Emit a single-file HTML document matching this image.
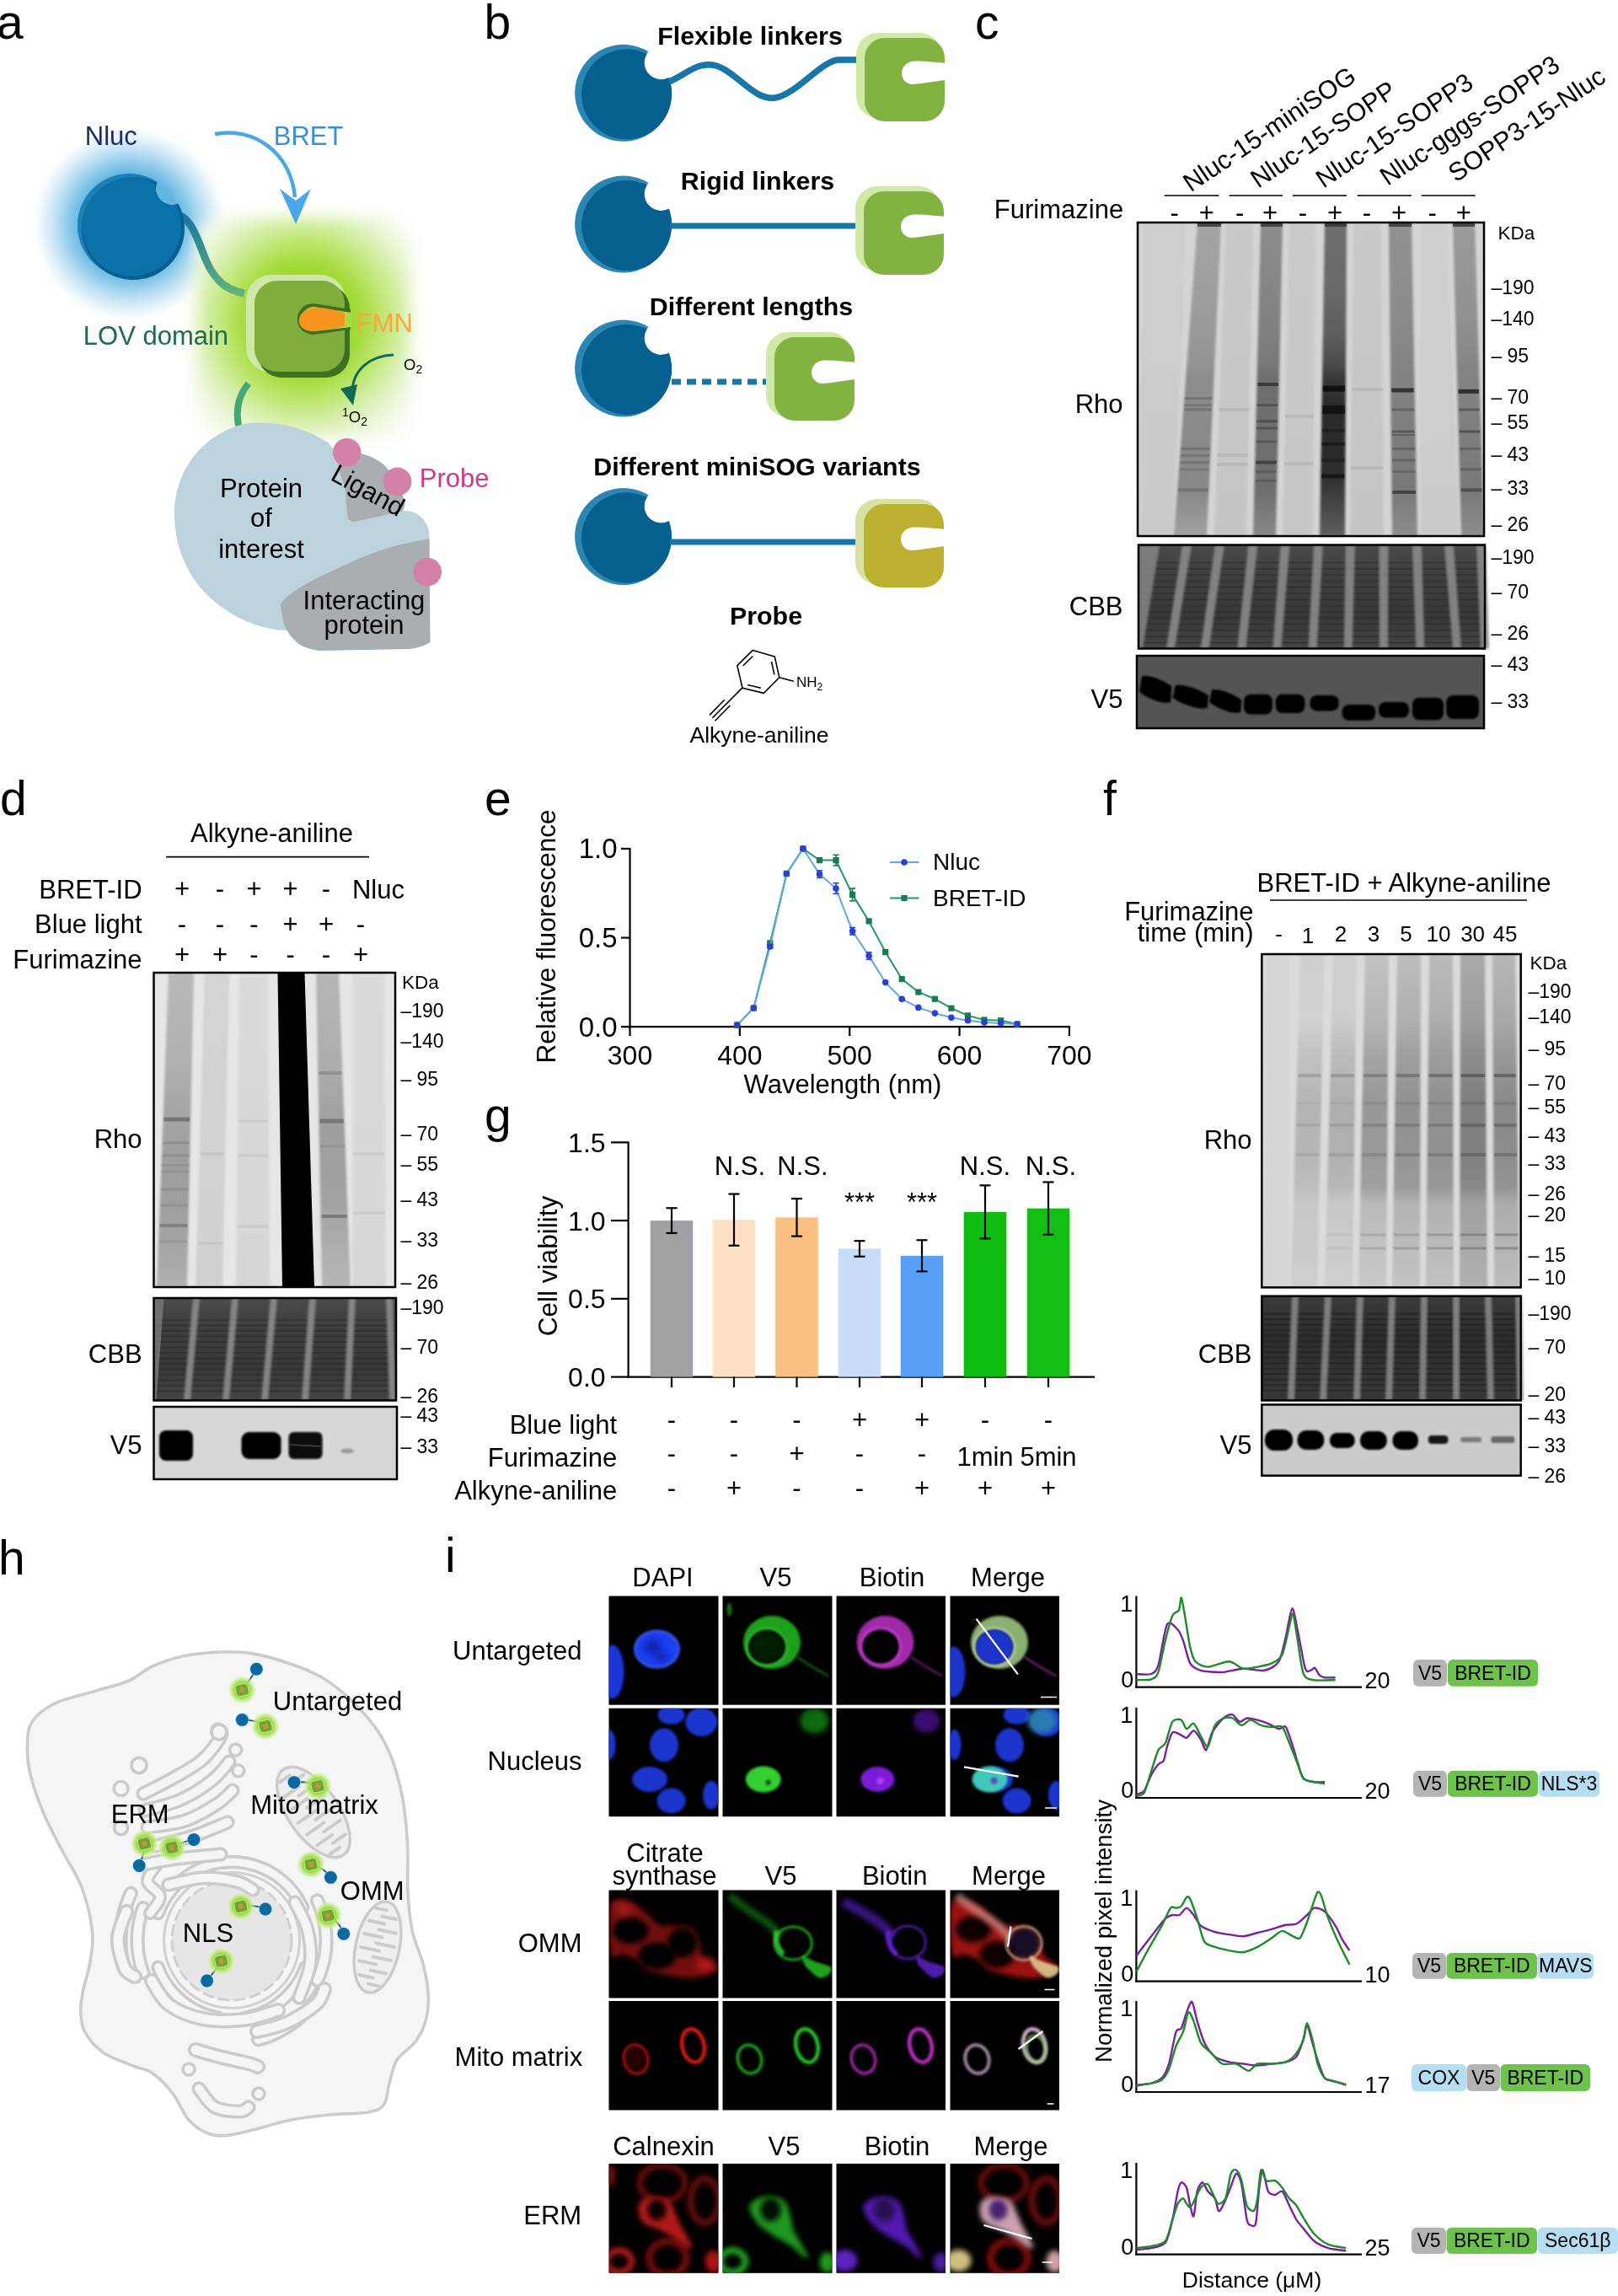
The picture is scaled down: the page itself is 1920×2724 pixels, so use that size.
<!DOCTYPE html>
<html><head><meta charset="utf-8"><style>
html,body{margin:0;padding:0;background:#fff;}
svg{display:block;will-change:transform;}
text{font-family:"Liberation Sans", sans-serif;}
</style></head><body>
<svg width="1920" height="2724" viewBox="0 0 1920 2724" font-family='"Liberation Sans", sans-serif'>
<defs>
<radialGradient id="bglow" cx="0.5" cy="0.5" r="0.5"><stop offset="0.5" stop-color="#62b6e2" stop-opacity="1"/><stop offset="0.62" stop-color="#80c4e8" stop-opacity="0.9"/><stop offset="0.78" stop-color="#b2dbf0" stop-opacity="0.7"/><stop offset="0.9" stop-color="#dceef8" stop-opacity="0.5"/><stop offset="1" stop-color="#ffffff" stop-opacity="0"/></radialGradient>
<filter id="gblur" x="-30%" y="-30%" width="160%" height="160%"><feGaussianBlur stdDeviation="9"/></filter>
<radialGradient id="ggl" cx="0.5" cy="0.47" r="0.62"><stop offset="0" stop-color="#96d41e"/><stop offset="0.42" stop-color="#a0da30"/><stop offset="0.62" stop-color="#c2e87a"/><stop offset="0.85" stop-color="#e6f5cf"/><stop offset="1" stop-color="#f6fbee"/></radialGradient>
<linearGradient id="lk1" x1="0" y1="0" x2="0" y2="1"><stop offset="0" stop-color="#1a76a0"/><stop offset="1" stop-color="#62b27a"/></linearGradient>
<filter id="lblur" x="-10%" y="-2%" width="120%" height="104%"><feGaussianBlur stdDeviation="1.6"/></filter>
<filter id="bblur" x="-20%" y="-40%" width="140%" height="180%"><feGaussianBlur stdDeviation="2"/></filter>
<filter id="bblur2" x="-20%" y="-60%" width="140%" height="220%"><feGaussianBlur stdDeviation="1.2"/></filter>
<linearGradient id="lg1" x1="0" y1="0" x2="0" y2="1"><stop offset="0" stop-color="#cecece"/><stop offset="1" stop-color="#cacaca"/></linearGradient>
<linearGradient id="lg2" x1="0" y1="0" x2="0" y2="1"><stop offset="0" stop-color="#c9c9c9"/><stop offset="1" stop-color="#c5c5c5"/></linearGradient>
<linearGradient id="lg3" x1="0" y1="0" x2="0" y2="1"><stop offset="0" stop-color="#cacaca"/><stop offset="1" stop-color="#c6c6c6"/></linearGradient>
<linearGradient id="lg4" x1="0" y1="0" x2="0" y2="1"><stop offset="0" stop-color="#c9c9c9"/><stop offset="1" stop-color="#c5c5c5"/></linearGradient>
<linearGradient id="lg5" x1="0" y1="0" x2="0" y2="1"><stop offset="0" stop-color="#cfcfcf"/><stop offset="1" stop-color="#cbcbcb"/></linearGradient>
<linearGradient id="lg6" x1="0" y1="0" x2="0" y2="1"><stop offset="0" stop-color="#a5a5a5"/><stop offset="0.3" stop-color="#9b9b9b"/><stop offset="0.45" stop-color="#949494"/><stop offset="0.5" stop-color="#8c8c8c"/><stop offset="0.85" stop-color="#878787"/><stop offset="1" stop-color="#a0a0a0"/></linearGradient>
<linearGradient id="lg7" x1="0" y1="0" x2="0" y2="1"><stop offset="0" stop-color="#8c8c8c"/><stop offset="0.3" stop-color="#828282"/><stop offset="0.45" stop-color="#787878"/><stop offset="0.5" stop-color="#6e6e6e"/><stop offset="0.85" stop-color="#6e6e6e"/><stop offset="1" stop-color="#878787"/></linearGradient>
<linearGradient id="lg8" x1="0" y1="0" x2="0" y2="1"><stop offset="0" stop-color="#6e6e6e"/><stop offset="0.2" stop-color="#696969"/><stop offset="0.35" stop-color="#5f5f5f"/><stop offset="0.45" stop-color="#4b4b4b"/><stop offset="0.5" stop-color="#373737"/><stop offset="0.6" stop-color="#282828"/><stop offset="0.8" stop-color="#2d2d2d"/><stop offset="0.9" stop-color="#464646"/><stop offset="1" stop-color="#5f5f5f"/></linearGradient>
<linearGradient id="lg9" x1="0" y1="0" x2="0" y2="1"><stop offset="0" stop-color="#919191"/><stop offset="0.3" stop-color="#8a8a8a"/><stop offset="0.5" stop-color="#828282"/><stop offset="0.85" stop-color="#787878"/><stop offset="1" stop-color="#8c8c8c"/></linearGradient>
<linearGradient id="lg10" x1="0" y1="0" x2="0" y2="1"><stop offset="0" stop-color="#9b9b9b"/><stop offset="0.3" stop-color="#919191"/><stop offset="0.5" stop-color="#828282"/><stop offset="0.85" stop-color="#787878"/><stop offset="1" stop-color="#8c8c8c"/></linearGradient>
<linearGradient id="cbbg" x1="0" y1="0" x2="0" y2="1"><stop offset="0" stop-color="#4a4a4a"/><stop offset="0.3" stop-color="#3e3e3e"/><stop offset="0.7" stop-color="#383838"/><stop offset="1" stop-color="#444"/></linearGradient>
<linearGradient id="lg11" x1="0" y1="0" x2="0" y2="1"><stop offset="0" stop-color="#b9b9b9"/><stop offset="0.3" stop-color="#afafaf"/><stop offset="0.45" stop-color="#a5a5a5"/><stop offset="0.6" stop-color="#9e9e9e"/><stop offset="0.8" stop-color="#a0a0a0"/><stop offset="1" stop-color="#afafaf"/></linearGradient>
<linearGradient id="lg12" x1="0" y1="0" x2="0" y2="1"><stop offset="0" stop-color="#d4d4d4"/><stop offset="1" stop-color="#d0d0d0"/></linearGradient>
<linearGradient id="lg13" x1="0" y1="0" x2="0" y2="1"><stop offset="0" stop-color="#dadada"/><stop offset="1" stop-color="#d6d6d6"/></linearGradient>
<linearGradient id="lg14" x1="0" y1="0" x2="0" y2="1"><stop offset="0" stop-color="#b6b6b6"/><stop offset="0.3" stop-color="#acacac"/><stop offset="0.5" stop-color="#9e9e9e"/><stop offset="0.7" stop-color="#a0a0a0"/><stop offset="1" stop-color="#b6b6b6"/></linearGradient>
<linearGradient id="lg15" x1="0" y1="0" x2="0" y2="1"><stop offset="0" stop-color="#dadada"/><stop offset="1" stop-color="#d7d7d7"/></linearGradient>
<linearGradient id="lg16" x1="0" y1="0" x2="0" y2="1"><stop offset="0" stop-color="#d6d6d6"/><stop offset="1" stop-color="#d6d6d6"/></linearGradient>
<linearGradient id="lg17" x1="0" y1="0" x2="0" y2="1"><stop offset="0" stop-color="#cecece"/><stop offset="0.2" stop-color="#d2d2d2"/><stop offset="0.3" stop-color="#c2c2c2"/><stop offset="0.45" stop-color="#b4b4b4"/><stop offset="0.6" stop-color="#b6b6b6"/><stop offset="0.7" stop-color="#bebebe"/><stop offset="0.75" stop-color="#c8c8c8"/><stop offset="0.9" stop-color="#cbcbcb"/><stop offset="1" stop-color="#cecece"/></linearGradient>
<linearGradient id="lg18" x1="0" y1="0" x2="0" y2="1"><stop offset="0" stop-color="#cecece"/><stop offset="0.2" stop-color="#cccccc"/><stop offset="0.3" stop-color="#bcbcbc"/><stop offset="0.45" stop-color="#aeaeae"/><stop offset="0.6" stop-color="#b0b0b0"/><stop offset="0.7" stop-color="#b8b8b8"/><stop offset="0.75" stop-color="#c8c8c8"/><stop offset="0.9" stop-color="#cbcbcb"/><stop offset="1" stop-color="#cecece"/></linearGradient>
<linearGradient id="lg19" x1="0" y1="0" x2="0" y2="1"><stop offset="0" stop-color="#c3c3c3"/><stop offset="0.2" stop-color="#b5b5b5"/><stop offset="0.3" stop-color="#a5a5a5"/><stop offset="0.45" stop-color="#979797"/><stop offset="0.6" stop-color="#999999"/><stop offset="0.7" stop-color="#a1a1a1"/><stop offset="0.75" stop-color="#b9b9b9"/><stop offset="0.9" stop-color="#c3c3c3"/><stop offset="1" stop-color="#c9c9c9"/></linearGradient>
<linearGradient id="lg20" x1="0" y1="0" x2="0" y2="1"><stop offset="0" stop-color="#bdbdbd"/><stop offset="0.2" stop-color="#afafaf"/><stop offset="0.3" stop-color="#9f9f9f"/><stop offset="0.45" stop-color="#919191"/><stop offset="0.6" stop-color="#939393"/><stop offset="0.7" stop-color="#9b9b9b"/><stop offset="0.75" stop-color="#b3b3b3"/><stop offset="0.9" stop-color="#bdbdbd"/><stop offset="1" stop-color="#c3c3c3"/></linearGradient>
<linearGradient id="lg21" x1="0" y1="0" x2="0" y2="1"><stop offset="0" stop-color="#bbbbbb"/><stop offset="0.2" stop-color="#adadad"/><stop offset="0.3" stop-color="#9d9d9d"/><stop offset="0.45" stop-color="#8f8f8f"/><stop offset="0.6" stop-color="#919191"/><stop offset="0.7" stop-color="#999999"/><stop offset="0.75" stop-color="#b1b1b1"/><stop offset="0.9" stop-color="#bbbbbb"/><stop offset="1" stop-color="#c1c1c1"/></linearGradient>
<linearGradient id="lg22" x1="0" y1="0" x2="0" y2="1"><stop offset="0" stop-color="#aaaaaa"/><stop offset="0.2" stop-color="#9c9c9c"/><stop offset="0.3" stop-color="#8c8c8c"/><stop offset="0.45" stop-color="#7e7e7e"/><stop offset="0.6" stop-color="#808080"/><stop offset="0.7" stop-color="#888888"/><stop offset="0.75" stop-color="#a0a0a0"/><stop offset="0.9" stop-color="#aaaaaa"/><stop offset="1" stop-color="#b0b0b0"/></linearGradient>
<linearGradient id="lg23" x1="0" y1="0" x2="0" y2="1"><stop offset="0" stop-color="#b6b6b6"/><stop offset="0.2" stop-color="#a8a8a8"/><stop offset="0.3" stop-color="#989898"/><stop offset="0.45" stop-color="#8a8a8a"/><stop offset="0.6" stop-color="#8c8c8c"/><stop offset="0.7" stop-color="#949494"/><stop offset="0.75" stop-color="#acacac"/><stop offset="0.9" stop-color="#b6b6b6"/><stop offset="1" stop-color="#bcbcbc"/></linearGradient>
<linearGradient id="cbbf" x1="0" y1="0" x2="0" y2="1"><stop offset="0" stop-color="#3a3a3a"/><stop offset="0.4" stop-color="#2c2c2c"/><stop offset="1" stop-color="#383838"/></linearGradient>
<radialGradient id="sg" cx="0.5" cy="0.5" r="0.5"><stop offset="0" stop-color="#90d030"/><stop offset="0.55" stop-color="#a2dc48"/><stop offset="0.8" stop-color="#c8ee90" stop-opacity="0.7"/><stop offset="1" stop-color="#eaf7d5" stop-opacity="0"/></radialGradient>
<radialGradient id="sb" cx="0.5" cy="0.5" r="0.5"><stop offset="0.65" stop-color="#7ccaf0"/><stop offset="1" stop-color="#d8f0fb" stop-opacity="0"/></radialGradient>
<filter id="mb1" x="-50%" y="-50%" width="200%" height="200%"><feGaussianBlur stdDeviation="1.5"/></filter>
<filter id="mb2" x="-50%" y="-50%" width="200%" height="200%"><feGaussianBlur stdDeviation="3"/></filter>
<filter id="mb4" x="-50%" y="-50%" width="200%" height="200%"><feGaussianBlur stdDeviation="5"/></filter>
<filter id="mb8" x="-50%" y="-50%" width="200%" height="200%"><feGaussianBlur stdDeviation="8"/></filter>
<clipPath id="tc1"><rect x="722.5" y="1893.5" width="130.0" height="129.20000000000005"/></clipPath>
<clipPath id="tc2"><rect x="857.5" y="1893.5" width="130.0" height="129.20000000000005"/></clipPath>
<clipPath id="tc3"><rect x="992.5" y="1893.5" width="129.5" height="129.20000000000005"/></clipPath>
<clipPath id="tc4"><rect x="1127.5" y="1893.5" width="129.5" height="129.20000000000005"/></clipPath>
<clipPath id="tc5"><rect x="722.5" y="2026.7" width="130.0" height="128.49999999999977"/></clipPath>
<clipPath id="tc6"><rect x="857.5" y="2026.7" width="130.0" height="128.49999999999977"/></clipPath>
<clipPath id="tc7"><rect x="992.5" y="2026.7" width="129.5" height="128.49999999999977"/></clipPath>
<clipPath id="tc8"><rect x="1127.5" y="2026.7" width="129.5" height="128.49999999999977"/></clipPath>
<clipPath id="tc9"><rect x="722.5" y="2242.5" width="130.0" height="128.0"/></clipPath>
<clipPath id="tc10"><rect x="857.5" y="2242.5" width="130.0" height="128.0"/></clipPath>
<clipPath id="tc11"><rect x="992.5" y="2242.5" width="129.5" height="128.0"/></clipPath>
<clipPath id="tc12"><rect x="1127.5" y="2242.5" width="129.5" height="128.0"/></clipPath>
<clipPath id="tc13"><rect x="722.5" y="2374" width="130.0" height="129.5"/></clipPath>
<clipPath id="tc14"><rect x="857.5" y="2374" width="130.0" height="129.5"/></clipPath>
<clipPath id="tc15"><rect x="992.5" y="2374" width="129.5" height="129.5"/></clipPath>
<clipPath id="tc16"><rect x="1127.5" y="2374" width="129.5" height="129.5"/></clipPath>
<clipPath id="tc17"><rect x="722.5" y="2567" width="130.0" height="129.80000000000018"/></clipPath>
<clipPath id="tc18"><rect x="857.5" y="2567" width="130.0" height="129.80000000000018"/></clipPath>
<clipPath id="tc19"><rect x="992.5" y="2567" width="129.5" height="129.80000000000018"/></clipPath>
<clipPath id="tc20"><rect x="1127.5" y="2567" width="129.5" height="129.80000000000018"/></clipPath>
</defs>
<rect x="0" y="0" width="1920" height="2724" fill="#fff"/>
<text x="-4.0" y="45.5" font-size="57" text-anchor="start" fill="#000">a</text>
<circle cx="154" cy="266" r="118" fill="url(#bglow)"/>
<rect x="232" y="258" width="256" height="262" rx="34" fill="url(#ggl)" filter="url(#gblur)"/>
<path d="M 212 255 C 232 262, 238 300, 250 320 C 260 336, 270 344, 290 348" fill="none" stroke="url(#lk1)" stroke-width="9"/>
<path d="M 186.8 215.8 A 61.5 61.5 0 1 0 209.5 242.2 A 19 19 0 0 1 186.8 215.8 Z" fill="#1a80b8"/>
<path d="M 186.3 217.0 A 61 61 0 1 0 211.4 241.5 A 19 19 0 0 1 186.3 217.0 Z" fill="#0a5f90"/>
<path d="M 185.8 218.4 A 58.5 58.5 0 1 0 208.6 242.4 A 19 19 0 0 1 185.8 218.4 Z" fill="#0a72a8"/>
<rect x="292" y="326" width="118" height="116" rx="30" fill="#cde9a5"/>
<rect x="306" y="338" width="109" height="110" rx="28" fill="#3f6f22"/>
<rect x="302" y="333" width="107" height="108" rx="27" fill="#7fae3d"/>
<path d="M 416 367 L 372 360 C 348 360, 345 396, 372 397 L 416 391 Z" fill="#3f6f22"/>
<path d="M 417 371 L 373 364 C 354 364, 351 393, 373 393 L 417 388 Z" fill="#a6dc40"/>
<path d="M 409 372 C 395 366, 372 362, 361 369 C 350 378, 354 392, 370 393 C 385 392, 398 389, 409 387 Z" fill="#f7941d"/>
<path d="M 295 455 C 282 470, 280 488, 283 505" fill="none" stroke="#45a874" stroke-width="8"/>
<path d="M 255 159 C 300 150, 345 180, 350 234" fill="none" stroke="#4aa8ea" stroke-width="4.5"/>
<path d="M 332 224 L 351 266 L 369 224 L 351 238 Z" fill="#4aa8ea"/>
<path d="M 467 421 C 440 422, 418 438, 418 466" fill="none" stroke="#0f6b52" stroke-width="3"/>
<path d="M 404 461 L 419 481 L 424 456 Z" fill="#0f6b52"/>
<text x="100.8" y="172" font-size="31" text-anchor="start" fill="#1c2a6e">Nluc</text>
<text x="324.8" y="172" font-size="31" text-anchor="start" fill="#3a8fd3">BRET</text>
<text x="98.8" y="409" font-size="31" text-anchor="start" fill="#1e6b4d">LOV domain</text>
<text x="422.8" y="394" font-size="31" text-anchor="start" fill="#f5a841">FMN</text>
<text x="479" y="438.5" font-size="18.5">O<tspan font-size="14" dy="4">2</tspan></text>
<text x="406" y="500.5" font-size="18.5"><tspan font-size="14" dy="-7">1</tspan><tspan dy="7">O</tspan><tspan font-size="14" dy="4">2</tspan></text>
<path d="M 207 614 C 205 560, 240 515, 290 503 C 320 498, 360 505, 390 526 L 396 533 C 405 555, 411 590, 414 618 L 474 606 C 490 604, 505 612, 509 630 L 509.5 642 L 470 700 L 380 740 C 360 748, 340 749, 326 747 C 280 740, 210 700, 207 614 Z" fill="#bcd3de"/>
<path d="M 400 537 C 415 533, 440 538, 455 551 C 465 560, 475 580, 480 594 C 481 600, 479 606, 476 607 C 460 610, 440 615, 421 619 C 415 619, 412 616, 412.7 614 C 411 600, 410 585, 408 575 C 405 565, 400 555, 400 537 Z" fill="#a8aeb1"/>
<path d="M 333 717 C 345 700, 370 688, 421 665 C 450 652, 480 644, 509.5 639.5 L 510.5 762 C 500 768, 490 770, 484 770 L 379 772 C 365 770, 355 766, 349.7 759.5 C 340 750, 335 740, 333 717 Z" fill="#a7adb0"/>
<circle cx="411.7" cy="536.7" r="16.8" fill="#d580a6"/>
<circle cx="471.6" cy="571.4" r="16.8" fill="#d580a6"/>
<circle cx="507.3" cy="678.6" r="16.8" fill="#d580a6"/>
<text x="497.8" y="578" font-size="31" text-anchor="start" fill="#cc3a88">Probe</text>
<text x="310" y="590" font-size="31" text-anchor="middle" fill="#000">Protein</text>
<text x="310" y="625" font-size="31" text-anchor="middle" fill="#000">of</text>
<text x="310" y="662" font-size="31" text-anchor="middle" fill="#000">interest</text>
<text x="431.5" y="591" font-size="31" text-anchor="middle" fill="#000" transform="rotate(29 431.5 591)">Ligand</text>
<text x="432" y="723" font-size="31" text-anchor="middle" fill="#000">Interacting</text>
<text x="432" y="752" font-size="31" text-anchor="middle" fill="#000">protein</text>
<text x="574.5" y="45.5" font-size="57" text-anchor="start" fill="#000">b</text>
<path d="M 769.5 61.2 A 57.5 57.5 0 1 0 794.1 91.9 A 20 20 0 0 1 769.5 61.2 Z" fill="#2b86b3"/>
<path d="M 767.5 63.9 A 53.5 53.5 0 1 0 793.4 92.3 A 20 20 0 0 1 767.5 63.9 Z" fill="#05608f"/>
<path d="M 769.5 216.9 A 57.5 57.5 0 1 0 794.1 247.6 A 20 20 0 0 1 769.5 216.9 Z" fill="#2b86b3"/>
<path d="M 767.5 219.6 A 53.5 53.5 0 1 0 793.4 248.0 A 20 20 0 0 1 767.5 219.6 Z" fill="#05608f"/>
<path d="M 769.5 387.9 A 57.5 57.5 0 1 0 794.1 418.6 A 20 20 0 0 1 769.5 387.9 Z" fill="#2b86b3"/>
<path d="M 767.5 390.6 A 53.5 53.5 0 1 0 793.4 419.0 A 20 20 0 0 1 767.5 390.6 Z" fill="#05608f"/>
<path d="M 769.5 587.4 A 57.5 57.5 0 1 0 794.1 618.1 A 20 20 0 0 1 769.5 587.4 Z" fill="#2b86b3"/>
<path d="M 767.5 590.1 A 53.5 53.5 0 1 0 793.4 618.5 A 20 20 0 0 1 767.5 590.1 Z" fill="#05608f"/>
<path d="M 794 97 C 815 88, 828 72, 850 78 C 875 86, 895 120, 920 116 C 945 112, 975 72, 995 71 L 1018 71" fill="none" stroke="#1677a8" stroke-width="7.5"/>
<line x1="795" y1="268" x2="1018" y2="268" stroke="#1677a8" stroke-width="7"/>
<line x1="797" y1="453" x2="912" y2="453" stroke="#1677a8" stroke-width="7" stroke-dasharray="11 7"/>
<line x1="795" y1="643" x2="1018" y2="643" stroke="#1677a8" stroke-width="7"/>
<rect x="1016" y="39" width="101" height="101" rx="26" fill="#cfe9a6"/>
<rect x="1026" y="45" width="95" height="99" rx="24" fill="#82b23f"/>
<path d="M 1122 75 C 1101 73, 1088 72, 1082 73 C 1066 76, 1066 98, 1082 100 C 1091 100, 1104 97, 1122 95 Z" fill="#fff"/>
<rect x="1015" y="221" width="101" height="101" rx="26" fill="#cfe9a6"/>
<rect x="1025" y="227" width="95" height="99" rx="24" fill="#82b23f"/>
<path d="M 1121 257 C 1100 255, 1087 254, 1081 255 C 1065 258, 1065 280, 1081 282 C 1090 282, 1103 279, 1121 277 Z" fill="#fff"/>
<rect x="909" y="394" width="101" height="101" rx="26" fill="#cfe9a6"/>
<rect x="919" y="400" width="95" height="99" rx="24" fill="#82b23f"/>
<path d="M 1015 430 C 994 428, 981 427, 975 428 C 959 431, 959 453, 975 455 C 984 455, 997 452, 1015 450 Z" fill="#fff"/>
<rect x="1015" y="592" width="101" height="101" rx="26" fill="#d8e2a2"/>
<rect x="1025" y="598" width="95" height="99" rx="24" fill="#bcb031"/>
<path d="M 1121 628 C 1100 626, 1087 625, 1081 626 C 1065 629, 1065 651, 1081 653 C 1090 653, 1103 650, 1121 648 Z" fill="#fff"/>
<text x="890" y="53" font-size="30.4" text-anchor="middle" fill="#000" font-weight="bold">Flexible linkers</text>
<text x="899" y="225" font-size="30.4" text-anchor="middle" fill="#000" font-weight="bold">Rigid linkers</text>
<text x="891.5" y="374" font-size="30.4" text-anchor="middle" fill="#000" font-weight="bold">Different lengths</text>
<text x="898.5" y="564" font-size="30.4" text-anchor="middle" fill="#000" font-weight="bold">Different miniSOG variants</text>
<text x="909" y="741" font-size="30.4" text-anchor="middle" fill="#000" font-weight="bold">Probe</text>
<polygon points="893.3,771.4 919.3,779.1 924.8,803.8 906.3,822.4 881,816.2 874.8,789.6" fill="none" stroke="#000" stroke-width="1.6" stroke-linejoin="round"/>
<line x1="893.3" y1="778.5" x2="881.8" y2="789.8" stroke="#000" stroke-width="1.6"/>
<line x1="915.5" y1="785.0" x2="918.9" y2="800.4" stroke="#000" stroke-width="1.6"/>
<line x1="902.9" y1="816.3" x2="887.1" y2="812.5" stroke="#000" stroke-width="1.6"/>
<line x1="924.8" y1="803.8" x2="941.8" y2="808.2" stroke="#000" stroke-width="1.6"/>
<text x="945" y="814.5" font-size="17">NH<tspan font-size="12" dy="4">2</tspan></text>
<line x1="881.3" y1="815.6" x2="845.4" y2="851.7" stroke="#000" stroke-width="1.6"/>
<line x1="859.7" y1="830.2" x2="842" y2="848.4" stroke="#000" stroke-width="1.6"/>
<line x1="866.3" y1="837" x2="848.5" y2="855.2" stroke="#000" stroke-width="1.6"/>
<text x="901" y="881" font-size="26.5" text-anchor="middle" fill="#000">Alkyne-aniline</text>
<text x="1157.0" y="45.7" font-size="57" text-anchor="start" fill="#000">c</text>
<rect x="1350" y="264" width="411" height="372" fill="#d4d4d4"/>
<polygon points="1356,264 1408,264 1392,636 1352,636" fill="url(#lg1)" filter="url(#lblur)"/>
<polygon points="1455,264 1487,264 1479,636 1441,636" fill="url(#lg2)" filter="url(#lblur)"/>
<polygon points="1530,264 1561,264 1558,636 1522,636" fill="url(#lg3)" filter="url(#lblur)"/>
<polygon points="1606,264 1639,264 1642,636 1602,636" fill="url(#lg4)" filter="url(#lblur)"/>
<polygon points="1686,264 1716,264 1732,636 1685,636" fill="url(#lg5)" filter="url(#lblur)"/>
<rect x="1446.6" y="484" width="35.6" height="4" fill="#b4b4b4" opacity="0.7"/>
<rect x="1444.6" y="538" width="36.5" height="4" fill="#b4b4b4" opacity="0.7"/>
<rect x="1444.2" y="549" width="36.6" height="4" fill="#b4b4b4" opacity="0.7"/>
<rect x="1525.1" y="492" width="34.1" height="4" fill="#b4b4b4" opacity="0.7"/>
<rect x="1523.8" y="548" width="34.8" height="4" fill="#b4b4b4" opacity="0.7"/>
<rect x="1603.9" y="460" width="36.7" height="4" fill="#b4b4b4" opacity="0.7"/>
<rect x="1602.9" y="553" width="38.5" height="4" fill="#b4b4b4" opacity="0.7"/>
<polygon points="1421,264 1449,264 1432,636 1393,636" fill="url(#lg6)" filter="url(#lblur)"/>
<rect x="1406.3" y="471.1" width="32.2" height="3" fill="#6e6e6e" opacity="0.85"/>
<rect x="1405.7" y="479.2" width="32.4" height="3" fill="#737373" opacity="0.85"/>
<rect x="1405.3" y="484.5" width="32.6" height="3" fill="#707070" opacity="0.85"/>
<rect x="1401.8" y="530.9" width="33.9" height="3" fill="#6e6e6e" opacity="0.85"/>
<rect x="1401.2" y="539.1" width="34.2" height="3" fill="#737373" opacity="0.85"/>
<rect x="1400.6" y="547.2" width="34.4" height="3" fill="#707070" opacity="0.85"/>
<rect x="1400.0" y="555.4" width="34.7" height="3" fill="#767676" opacity="0.85"/>
<rect x="1398.1" y="579.4" width="35.4" height="4" fill="#707070" opacity="0.85"/>
<polygon points="1496,264 1522,264 1514,636 1487,636" fill="url(#lg7)" filter="url(#lblur)"/>
<rect x="1492.4" y="454.0" width="24.5" height="4" fill="#323232" opacity="0.85"/>
<rect x="1491.8" y="479.2" width="24.6" height="3" fill="#505050" opacity="0.85"/>
<rect x="1491.3" y="498.3" width="24.6" height="3" fill="#4b4b4b" opacity="0.85"/>
<rect x="1491.1" y="506.5" width="24.7" height="3" fill="#505050" opacity="0.85"/>
<rect x="1490.7" y="522.5" width="24.7" height="3" fill="#555555" opacity="0.85"/>
<rect x="1490.1" y="546.7" width="24.8" height="4" fill="#3c3c3c" opacity="0.85"/>
<rect x="1489.8" y="558.1" width="24.8" height="3" fill="#5a5a5a" opacity="0.85"/>
<rect x="1489.6" y="569.0" width="24.8" height="3" fill="#5a5a5a" opacity="0.85"/>
<polygon points="1572,264 1598,264 1596,636 1566,636" fill="url(#lg8)" filter="url(#lblur)"/>
<rect x="1569.8" y="457.5" width="26.1" height="7" fill="#0a0a0a" opacity="0.85"/>
<rect x="1569.4" y="481.0" width="26.4" height="10" fill="#0f0f0f" opacity="0.85"/>
<rect x="1569.0" y="508.6" width="26.7" height="4" fill="#1e1e1e" opacity="0.85"/>
<rect x="1568.8" y="525.0" width="26.8" height="4" fill="#191919" opacity="0.85"/>
<rect x="1568.5" y="544.0" width="27.0" height="4" fill="#1e1e1e" opacity="0.85"/>
<rect x="1568.1" y="562.5" width="27.2" height="5" fill="#141414" opacity="0.85"/>
<polygon points="1648,264 1675,264 1682,636 1652,636" fill="url(#lg9)" filter="url(#lblur)"/>
<rect x="1651.1" y="460.5" width="26.6" height="5" fill="#282828" opacity="0.85"/>
<rect x="1651.4" y="484.5" width="26.8" height="3" fill="#5f5f5f" opacity="0.85"/>
<rect x="1651.7" y="510.5" width="27.0" height="3" fill="#555555" opacity="0.85"/>
<rect x="1651.7" y="515.0" width="27.0" height="2" fill="#5a5a5a" opacity="0.85"/>
<rect x="1651.9" y="530.9" width="27.2" height="3" fill="#5f5f5f" opacity="0.85"/>
<rect x="1652.0" y="544.5" width="27.3" height="3" fill="#5f5f5f" opacity="0.85"/>
<rect x="1652.2" y="558.1" width="27.4" height="3" fill="#646464" opacity="0.85"/>
<rect x="1652.4" y="582.0" width="27.6" height="4" fill="#3c3c3c" opacity="0.85"/>
<polygon points="1724,264 1750,264 1761,636 1734,636" fill="url(#lg10)" filter="url(#lblur)"/>
<rect x="1730.4" y="461.9" width="24.5" height="5" fill="#232323" opacity="0.85"/>
<rect x="1731.0" y="484.5" width="24.6" height="3" fill="#555555" opacity="0.85"/>
<rect x="1731.7" y="510.5" width="24.7" height="3" fill="#4b4b4b" opacity="0.85"/>
<rect x="1732.2" y="530.9" width="24.7" height="3" fill="#5f5f5f" opacity="0.85"/>
<rect x="1732.9" y="555.5" width="24.8" height="3" fill="#5f5f5f" opacity="0.85"/>
<rect x="1733.5" y="579.4" width="24.9" height="4" fill="#4b4b4b" opacity="0.85"/>
<rect x="1421" y="265" width="28" height="4" fill="#333" opacity="0.8"/>
<rect x="1496" y="265" width="26" height="4" fill="#333" opacity="0.8"/>
<rect x="1572" y="265" width="26" height="4" fill="#333" opacity="0.8"/>
<rect x="1648" y="265" width="27" height="4" fill="#333" opacity="0.8"/>
<rect x="1724" y="265" width="26" height="4" fill="#333" opacity="0.8"/>
<rect x="1350" y="264" width="411" height="372" fill="none" stroke="#000" stroke-width="2.5"/>
<rect x="1351" y="646.5" width="411" height="123.0" fill="url(#cbbg)"/>
<rect x="1351" y="666.5" width="411" height="2" fill="#2a2a2a" opacity="0.5"/>
<rect x="1351" y="673.8" width="411" height="2" fill="#2a2a2a" opacity="0.5"/>
<rect x="1351" y="681.1" width="411" height="2" fill="#2a2a2a" opacity="0.5"/>
<rect x="1351" y="688.4" width="411" height="2" fill="#2a2a2a" opacity="0.5"/>
<rect x="1351" y="695.7" width="411" height="2" fill="#2a2a2a" opacity="0.5"/>
<rect x="1351" y="703.0" width="411" height="2" fill="#2a2a2a" opacity="0.5"/>
<rect x="1351" y="710.3" width="411" height="2" fill="#2a2a2a" opacity="0.5"/>
<rect x="1351" y="717.6" width="411" height="2" fill="#2a2a2a" opacity="0.5"/>
<rect x="1351" y="724.9" width="411" height="2" fill="#2a2a2a" opacity="0.5"/>
<rect x="1351" y="732.2" width="411" height="2" fill="#2a2a2a" opacity="0.5"/>
<rect x="1351" y="739.5" width="411" height="2" fill="#2a2a2a" opacity="0.5"/>
<rect x="1351" y="746.8" width="411" height="2" fill="#2a2a2a" opacity="0.5"/>
<rect x="1351" y="754.1" width="411" height="2" fill="#2a2a2a" opacity="0.5"/>
<rect x="1351" y="761.4" width="411" height="2" fill="#2a2a2a" opacity="0.5"/>
<polygon points="1403.0,646.5 1414.0,646.5 1394,769.5 1384,769.5" fill="#8a8a8a" filter="url(#lblur)" opacity="0.9"/>
<polygon points="1441.9,646.5 1452.9,646.5 1434.7,769.5 1424.7,769.5" fill="#8a8a8a" filter="url(#lblur)" opacity="0.9"/>
<polygon points="1481.4,646.5 1492.4,646.5 1478.3,769.5 1468.3,769.5" fill="#8a8a8a" filter="url(#lblur)" opacity="0.9"/>
<polygon points="1519.5,646.5 1530.5,646.5 1520.4,769.5 1510.4,769.5" fill="#8a8a8a" filter="url(#lblur)" opacity="0.9"/>
<polygon points="1558.9,646.5 1569.9,646.5 1562.6,769.5 1552.6,769.5" fill="#8a8a8a" filter="url(#lblur)" opacity="0.9"/>
<polygon points="1596.9,646.5 1607.9,646.5 1604.7,769.5 1594.7,769.5" fill="#8a8a8a" filter="url(#lblur)" opacity="0.9"/>
<polygon points="1636.4,646.5 1647.4,646.5 1646.9,769.5 1636.9,769.5" fill="#8a8a8a" filter="url(#lblur)" opacity="0.9"/>
<polygon points="1675.8,646.5 1686.8,646.5 1690.4,769.5 1680.4,769.5" fill="#8a8a8a" filter="url(#lblur)" opacity="0.9"/>
<polygon points="1713.9,646.5 1724.9,646.5 1734,769.5 1724,769.5" fill="#8a8a8a" filter="url(#lblur)" opacity="0.9"/>
<polygon points="1752.0,646.5 1763.0,646.5 1767,769.5 1757,769.5" fill="#8a8a8a" filter="url(#lblur)" opacity="0.9"/>
<polygon points="1351,646.5 1376,646.5 1356,769.5 1351,769.5" fill="#8a8a8a" opacity="0.8" filter="url(#lblur)"/>
<rect x="1351" y="646.5" width="411" height="123.0" fill="none" stroke="#000" stroke-width="2.5"/>
<rect x="1349" y="778" width="412" height="86" fill="#545454"/>
<path d="M 1355 802.3 C 1367 800.3, 1382.3 808.3, 1390.3 814.3 L 1389.3 833 C 1380.3 836, 1362 829, 1352 821 Z" fill="#050505" filter="url(#bblur2)"/>
<path d="M 1394.7 813 C 1406.7 811, 1425.8 819, 1433.8 825 L 1432.8 839.7 C 1423.8 842.7, 1401.7 835.7, 1391.7 827.7 Z" fill="#050505" filter="url(#bblur2)"/>
<path d="M 1438 818.6 C 1450 816.6, 1465.3 824.6, 1473.3 830.6 L 1472.3 845 C 1463.3 848, 1445 841, 1435 833 Z" fill="#050505" filter="url(#bblur2)"/>
<rect x="1476" y="823.7" width="33.799999999999955" height="23.799999999999955" rx="8" fill="#050505" filter="url(#bblur2)" transform="skewY(0) translate(0,0.0)"/>
<rect x="1513.7" y="823.7" width="34.700000000000045" height="22.299999999999955" rx="8" fill="#050505" filter="url(#bblur2)" transform="skewY(0) translate(0,0.0)"/>
<rect x="1554.5" y="825" width="34.200000000000045" height="18.399999999999977" rx="8" fill="#050505" filter="url(#bblur2)" transform="skewY(0) translate(0,0.0)"/>
<rect x="1592.6" y="836" width="39.600000000000136" height="18.799999999999955" rx="8" fill="#050505" filter="url(#bblur2)" transform="skewY(0) translate(0,0.0)"/>
<rect x="1636" y="833" width="36" height="18.600000000000023" rx="8" fill="#050505" filter="url(#bblur2)" transform="skewY(0) translate(0,0.0)"/>
<rect x="1676" y="827.7" width="37" height="26.59999999999991" rx="8" fill="#050505" filter="url(#bblur2)" transform="skewY(0) translate(0,0.0)"/>
<rect x="1716.3" y="825" width="38.700000000000045" height="28" rx="8" fill="#050505" filter="url(#bblur2)" transform="skewY(0) translate(0,0.0)"/>
<rect x="1349" y="778" width="412" height="86" fill="none" stroke="#000" stroke-width="2.5"/>
<text x="1179.8" y="259" font-size="31" text-anchor="start" fill="#000">Furimazine</text>
<text x="1393.7" y="262.5" font-size="31" text-anchor="middle" fill="#000">-</text>
<text x="1431.7" y="262.5" font-size="31" text-anchor="middle" fill="#000">+</text>
<text x="1471.2" y="262.5" font-size="31" text-anchor="middle" fill="#000">-</text>
<text x="1507" y="262.5" font-size="31" text-anchor="middle" fill="#000">+</text>
<text x="1546" y="262.5" font-size="31" text-anchor="middle" fill="#000">-</text>
<text x="1584" y="262.5" font-size="31" text-anchor="middle" fill="#000">+</text>
<text x="1622" y="262.5" font-size="31" text-anchor="middle" fill="#000">-</text>
<text x="1660" y="262.5" font-size="31" text-anchor="middle" fill="#000">+</text>
<text x="1699.7" y="262.5" font-size="31" text-anchor="middle" fill="#000">-</text>
<text x="1736.8" y="262.5" font-size="31" text-anchor="middle" fill="#000">+</text>
<line x1="1381.8" y1="232" x2="1446.5" y2="232" stroke="#000" stroke-width="1.6"/>
<line x1="1458.4" y1="232" x2="1522" y2="232" stroke="#000" stroke-width="1.6"/>
<line x1="1534" y1="232" x2="1598" y2="232" stroke="#000" stroke-width="1.6"/>
<line x1="1610.7" y1="232" x2="1675" y2="232" stroke="#000" stroke-width="1.6"/>
<line x1="1686.8" y1="232" x2="1750.6" y2="232" stroke="#000" stroke-width="1.6"/>
<text x="1413" y="228.5" font-size="30.5" text-anchor="start" fill="#000" transform="rotate(-34 1413 228.5)">Nluc-15-miniSOG</text>
<text x="1493" y="224" font-size="30.5" text-anchor="start" fill="#000" transform="rotate(-34 1493 224)">Nluc-15-SOPP</text>
<text x="1570.5" y="224" font-size="30.5" text-anchor="start" fill="#000" transform="rotate(-34 1570.5 224)">Nluc-15-SOPP3</text>
<text x="1646.5" y="221" font-size="30.5" text-anchor="start" fill="#000" transform="rotate(-34 1646.5 221)">Nluc-gggs-SOPP3</text>
<text x="1727.5" y="217" font-size="30.5" text-anchor="start" fill="#000" transform="rotate(-34 1727.5 217)">SOPP3-15-Nluc</text>
<text x="1332.5" y="490" font-size="31" text-anchor="end" fill="#000">Rho</text>
<text x="1332.5" y="730" font-size="31" text-anchor="end" fill="#000">CBB</text>
<text x="1332.5" y="840" font-size="31" text-anchor="end" fill="#000">V5</text>
<text x="1777.4" y="284" font-size="22.5" text-anchor="start" fill="#000">KDa</text>
<text x="1769.4" y="349" font-size="23" text-anchor="start" fill="#000">–190</text>
<text x="1769.4" y="385.5" font-size="23" text-anchor="start" fill="#000">–140</text>
<text x="1769.4" y="430" font-size="23" text-anchor="start" fill="#000">– 95</text>
<text x="1769.4" y="479" font-size="23" text-anchor="start" fill="#000">– 70</text>
<text x="1769.4" y="508.5" font-size="23" text-anchor="start" fill="#000">– 55</text>
<text x="1769.4" y="546.5" font-size="23" text-anchor="start" fill="#000">– 43</text>
<text x="1769.4" y="586.5" font-size="23" text-anchor="start" fill="#000">– 33</text>
<text x="1769.4" y="629.5" font-size="23" text-anchor="start" fill="#000">– 26</text>
<text x="1769.4" y="668.5" font-size="23" text-anchor="start" fill="#000">–190</text>
<text x="1769.4" y="709.5" font-size="23" text-anchor="start" fill="#000">– 70</text>
<text x="1769.4" y="758.5" font-size="23" text-anchor="start" fill="#000">– 26</text>
<text x="1769.4" y="796" font-size="23" text-anchor="start" fill="#000">– 43</text>
<text x="1769.4" y="839.5" font-size="23" text-anchor="start" fill="#000">– 33</text>
<text x="0.0" y="966.7" font-size="57" text-anchor="start" fill="#000">d</text>
<text x="322.5" y="999" font-size="31" text-anchor="middle" fill="#000">Alkyne-aniline</text>
<line x1="197" y1="1016.6" x2="438" y2="1016.6" stroke="#000" stroke-width="1.6"/>
<text x="168.6" y="1066" font-size="31" text-anchor="end" fill="#000">BRET-ID</text>
<text x="168.6" y="1107" font-size="31" text-anchor="end" fill="#000">Blue light</text>
<text x="168.6" y="1148.5" font-size="31" text-anchor="end" fill="#000">Furimazine</text>
<text x="216" y="1064.5" font-size="31" text-anchor="middle" fill="#000">+</text>
<text x="261" y="1064.5" font-size="31" text-anchor="middle" fill="#000">-</text>
<text x="301.5" y="1064.5" font-size="31" text-anchor="middle" fill="#000">+</text>
<text x="344.6" y="1064.5" font-size="31" text-anchor="middle" fill="#000">+</text>
<text x="387" y="1064.5" font-size="31" text-anchor="middle" fill="#000">-</text>
<text x="449" y="1066" font-size="31" text-anchor="middle" fill="#000">Nluc</text>
<text x="216" y="1107" font-size="31" text-anchor="middle" fill="#000">-</text>
<text x="261" y="1107" font-size="31" text-anchor="middle" fill="#000">-</text>
<text x="301.5" y="1107" font-size="31" text-anchor="middle" fill="#000">-</text>
<text x="344.6" y="1107" font-size="31" text-anchor="middle" fill="#000">+</text>
<text x="387" y="1107" font-size="31" text-anchor="middle" fill="#000">+</text>
<text x="428" y="1107" font-size="31" text-anchor="middle" fill="#000">-</text>
<text x="216" y="1142.5" font-size="31" text-anchor="middle" fill="#000">+</text>
<text x="261" y="1142.5" font-size="31" text-anchor="middle" fill="#000">+</text>
<text x="301.5" y="1142.5" font-size="31" text-anchor="middle" fill="#000">-</text>
<text x="344.6" y="1142.5" font-size="31" text-anchor="middle" fill="#000">-</text>
<text x="387" y="1142.5" font-size="31" text-anchor="middle" fill="#000">-</text>
<text x="428" y="1142.5" font-size="31" text-anchor="middle" fill="#000">+</text>
<rect x="182.5" y="1154" width="286.5" height="373" fill="#e6e6e6"/>
<polygon points="200,1154 230,1154 222,1527 186,1527" fill="url(#lg11)" filter="url(#lblur)"/>
<rect x="194.5" y="1325.5" width="30.8" height="5" fill="#6e6e6e" opacity="0.85"/>
<rect x="193.4" y="1354.5" width="31.2" height="3" fill="#8c8c8c" opacity="0.85"/>
<rect x="192.9" y="1369.5" width="31.5" height="3" fill="#8c8c8c" opacity="0.85"/>
<rect x="192.4" y="1381.0" width="31.7" height="3" fill="#919191" opacity="0.85"/>
<rect x="192.1" y="1388.5" width="31.8" height="3" fill="#919191" opacity="0.85"/>
<rect x="191.4" y="1409.5" width="32.1" height="3" fill="#8c8c8c" opacity="0.85"/>
<rect x="190.6" y="1428.5" width="32.4" height="3" fill="#919191" opacity="0.85"/>
<rect x="189.7" y="1452.0" width="32.8" height="4" fill="#7d7d7d" opacity="0.85"/>
<rect x="189.0" y="1471.5" width="33.1" height="3" fill="#969696" opacity="0.85"/>
<polygon points="243,1154 272,1154 264,1527 232,1527" fill="url(#lg12)" filter="url(#lblur)"/>
<rect x="237.7" y="1367.5" width="28.7" height="3" fill="#c3c3c3" opacity="0.85"/>
<rect x="234.5" y="1473.5" width="29.6" height="3" fill="#c3c3c3" opacity="0.85"/>
<polygon points="284,1154 318,1154 320,1527 280,1527" fill="url(#lg13)" filter="url(#lblur)"/>
<rect x="283.1" y="1328.5" width="34.8" height="3" fill="#c8c8c8" opacity="0.85"/>
<rect x="282.7" y="1369.5" width="35.5" height="3" fill="#c8c8c8" opacity="0.85"/>
<rect x="281.8" y="1453.5" width="36.8" height="3" fill="#c8c8c8" opacity="0.85"/>
<polygon points="375,1154 402,1154 416,1527 382,1527" fill="url(#lg14)" filter="url(#lblur)"/>
<rect x="378.2" y="1271.0" width="27.2" height="4" fill="#8c8c8c" opacity="0.85"/>
<rect x="379.3" y="1327.5" width="28.3" height="5" fill="#6e6e6e" opacity="0.85"/>
<rect x="379.9" y="1358.5" width="28.9" height="3" fill="#919191" opacity="0.85"/>
<rect x="381.4" y="1441.0" width="30.4" height="4" fill="#737373" opacity="0.85"/>
<polygon points="418,1154 456,1154 458,1527 418,1527" fill="url(#lg15)" filter="url(#lblur)"/>
<rect x="419.0" y="1367.5" width="37.2" height="3" fill="#c8c8c8" opacity="0.85"/>
<rect x="419.0" y="1437.5" width="37.5" height="3" fill="#c8c8c8" opacity="0.85"/>
<polygon points="329.5,1154 361.5,1154 373,1527 335,1527" fill="#000"/>
<rect x="182.5" y="1154" width="286.5" height="373" fill="none" stroke="#000" stroke-width="2.5"/>
<rect x="182.5" y="1540" width="287.5" height="121.5" fill="url(#cbbg)"/>
<rect x="182.5" y="1565.0" width="287.5" height="2" fill="#262626" opacity="0.5"/>
<rect x="182.5" y="1571.5" width="287.5" height="2" fill="#262626" opacity="0.5"/>
<rect x="182.5" y="1578.0" width="287.5" height="2" fill="#262626" opacity="0.5"/>
<rect x="182.5" y="1584.5" width="287.5" height="2" fill="#262626" opacity="0.5"/>
<rect x="182.5" y="1591.0" width="287.5" height="2" fill="#262626" opacity="0.5"/>
<rect x="182.5" y="1597.5" width="287.5" height="2" fill="#262626" opacity="0.5"/>
<rect x="182.5" y="1604.0" width="287.5" height="2" fill="#262626" opacity="0.5"/>
<rect x="182.5" y="1610.5" width="287.5" height="2" fill="#262626" opacity="0.5"/>
<rect x="182.5" y="1617.0" width="287.5" height="2" fill="#262626" opacity="0.5"/>
<rect x="182.5" y="1623.5" width="287.5" height="2" fill="#262626" opacity="0.5"/>
<rect x="182.5" y="1630.0" width="287.5" height="2" fill="#262626" opacity="0.5"/>
<rect x="182.5" y="1636.5" width="287.5" height="2" fill="#262626" opacity="0.5"/>
<rect x="182.5" y="1643.0" width="287.5" height="2" fill="#262626" opacity="0.5"/>
<rect x="182.5" y="1649.5" width="287.5" height="2" fill="#262626" opacity="0.5"/>
<polygon points="229,1540 237,1540 226,1661.5 218,1661.5" fill="#8c8c8c" filter="url(#lblur)" opacity="0.9"/>
<polygon points="275,1540 283,1540 272,1661.5 264,1661.5" fill="#8c8c8c" filter="url(#lblur)" opacity="0.9"/>
<polygon points="321,1540 329,1540 318,1661.5 310,1661.5" fill="#8c8c8c" filter="url(#lblur)" opacity="0.9"/>
<polygon points="367,1540 375,1540 366,1661.5 358,1661.5" fill="#8c8c8c" filter="url(#lblur)" opacity="0.9"/>
<polygon points="414,1540 422,1540 416,1661.5 408,1661.5" fill="#8c8c8c" filter="url(#lblur)" opacity="0.9"/>
<polygon points="458,1540 466,1540 470,1661.5 462,1661.5" fill="#8c8c8c" filter="url(#lblur)" opacity="0.9"/>
<polygon points="182.5,1540 194.5,1540 185.5,1661.5 182.5,1661.5" fill="#7a7a7a" opacity="0.8"/>
<rect x="182.5" y="1540" width="287.5" height="121.5" fill="none" stroke="#000" stroke-width="2.5"/>
<rect x="182.5" y="1669" width="288.5" height="86" fill="#d7d7d7"/>
<rect x="189" y="1697" width="40" height="36" rx="8" fill="#060606" filter="url(#bblur2)"/>
<rect x="286.5" y="1699" width="47" height="32" rx="9" fill="#060606" filter="url(#bblur2)"/>
<rect x="342.5" y="1699" width="40" height="32" rx="6" fill="#080808" filter="url(#bblur2)"/>
<line x1="344" y1="1714" x2="381" y2="1716" stroke="#444" stroke-width="1.5"/>
<ellipse cx="412" cy="1721.5" rx="8" ry="3" fill="#9a9a9a" filter="url(#bblur2)"/>
<rect x="182.5" y="1669" width="288.5" height="86" fill="none" stroke="#000" stroke-width="2.5"/>
<text x="168.6" y="1362" font-size="31" text-anchor="end" fill="#000">Rho</text>
<text x="168.6" y="1617" font-size="31" text-anchor="end" fill="#000">CBB</text>
<text x="168.6" y="1725" font-size="31" text-anchor="end" fill="#000">V5</text>
<text x="477.1" y="1173" font-size="22.5" text-anchor="start" fill="#000">KDa</text>
<text x="475.4" y="1207" font-size="23" text-anchor="start" fill="#000">–190</text>
<text x="475.4" y="1243" font-size="23" text-anchor="start" fill="#000">–140</text>
<text x="475.4" y="1287.5" font-size="23" text-anchor="start" fill="#000">– 95</text>
<text x="475.4" y="1353" font-size="23" text-anchor="start" fill="#000">– 70</text>
<text x="475.4" y="1389" font-size="23" text-anchor="start" fill="#000">– 55</text>
<text x="475.4" y="1431" font-size="23" text-anchor="start" fill="#000">– 43</text>
<text x="475.4" y="1478.5" font-size="23" text-anchor="start" fill="#000">– 33</text>
<text x="475.4" y="1529" font-size="23" text-anchor="start" fill="#000">– 26</text>
<text x="475.4" y="1559" font-size="23" text-anchor="start" fill="#000">–190</text>
<text x="475.4" y="1606" font-size="23" text-anchor="start" fill="#000">– 70</text>
<text x="475.4" y="1664" font-size="23" text-anchor="start" fill="#000">– 26</text>
<text x="475.4" y="1686.5" font-size="23" text-anchor="start" fill="#000">– 43</text>
<text x="475.4" y="1724" font-size="23" text-anchor="start" fill="#000">– 33</text>
<text x="1309.0" y="966.5" font-size="57" text-anchor="start" fill="#000">f</text>
<text x="1666" y="1058" font-size="31" text-anchor="middle" fill="#000">BRET-ID + Alkyne-aniline</text>
<line x1="1507" y1="1068" x2="1812" y2="1068" stroke="#000" stroke-width="1.6"/>
<text x="1487.5" y="1092.4" font-size="31" text-anchor="end" fill="#000">Furimazine</text>
<text x="1487.5" y="1117" font-size="31" text-anchor="end" fill="#000">time (min)</text>
<text x="1517.6" y="1117" font-size="26" text-anchor="middle" fill="#000">-</text>
<text x="1552" y="1119" font-size="26" text-anchor="middle" fill="#000">1</text>
<text x="1591" y="1117" font-size="26" text-anchor="middle" fill="#000">2</text>
<text x="1630" y="1117" font-size="26" text-anchor="middle" fill="#000">3</text>
<text x="1668.6" y="1117" font-size="26" text-anchor="middle" fill="#000">5</text>
<text x="1707" y="1117" font-size="26" text-anchor="middle" fill="#000">10</text>
<text x="1747.6" y="1117" font-size="26" text-anchor="middle" fill="#000">30</text>
<text x="1786" y="1117" font-size="26" text-anchor="middle" fill="#000">45</text>
<rect x="1497.3" y="1132" width="307.4000000000001" height="395.4000000000001" fill="#dbdbdb"/>
<polygon points="1502,1132 1530,1132 1530,1527.4 1500,1527.4" fill="url(#lg16)" filter="url(#lblur)"/>
<polygon points="1543,1132 1572,1132 1563,1527.4 1532,1527.4" fill="url(#lg17)" filter="url(#lblur)"/>
<rect x="1540.0" y="1274.0" width="27.7" height="4" fill="#999999" opacity="0.7"/>
<rect x="1539.1" y="1307.5" width="27.9" height="3" fill="#aaaaaa" opacity="0.7"/>
<rect x="1538.4" y="1333.0" width="28.0" height="4" fill="#a3a3a3" opacity="0.7"/>
<rect x="1537.4" y="1368.0" width="28.2" height="4" fill="#a4a4a4" opacity="0.7"/>
<rect x="1534.7" y="1463.5" width="28.7" height="3" fill="#c9c9c9" opacity="0.7"/>
<rect x="1534.3" y="1479.5" width="28.8" height="3" fill="#c9c9c9" opacity="0.7"/>
<polygon points="1582,1132 1610,1132 1605,1527.4 1572,1527.4" fill="url(#lg18)" filter="url(#lblur)"/>
<rect x="1579.4" y="1274.0" width="27.8" height="4" fill="#8e8e8e" opacity="0.7"/>
<rect x="1578.5" y="1307.5" width="28.2" height="3" fill="#a2a2a2" opacity="0.7"/>
<rect x="1577.9" y="1333.0" width="28.6" height="4" fill="#9a9a9a" opacity="0.7"/>
<rect x="1577.0" y="1368.0" width="29.0" height="4" fill="#9b9b9b" opacity="0.7"/>
<rect x="1574.6" y="1463.5" width="30.2" height="3" fill="#bebebe" opacity="0.7"/>
<rect x="1574.2" y="1479.5" width="30.4" height="3" fill="#bebebe" opacity="0.7"/>
<polygon points="1620,1132 1648,1132 1645,1527.4 1612,1527.4" fill="url(#lg19)" filter="url(#lblur)"/>
<rect x="1618.1" y="1274.0" width="27.8" height="4" fill="#737373" opacity="0.7"/>
<rect x="1617.4" y="1307.5" width="28.2" height="3" fill="#898989" opacity="0.7"/>
<rect x="1616.9" y="1333.0" width="28.6" height="4" fill="#7f7f7f" opacity="0.7"/>
<rect x="1616.2" y="1368.0" width="29.0" height="4" fill="#818181" opacity="0.7"/>
<rect x="1614.3" y="1463.5" width="30.2" height="3" fill="#a1a1a1" opacity="0.7"/>
<rect x="1613.9" y="1479.5" width="30.4" height="3" fill="#a1a1a1" opacity="0.7"/>
<polygon points="1658,1132 1686,1132 1685,1527.4 1652,1527.4" fill="url(#lg20)" filter="url(#lblur)"/>
<rect x="1656.8" y="1274.0" width="27.8" height="4" fill="#696969" opacity="0.7"/>
<rect x="1656.3" y="1307.5" width="28.2" height="3" fill="#808080" opacity="0.7"/>
<rect x="1655.9" y="1333.0" width="28.6" height="4" fill="#767676" opacity="0.7"/>
<rect x="1655.4" y="1368.0" width="29.0" height="4" fill="#797979" opacity="0.7"/>
<rect x="1653.9" y="1463.5" width="30.2" height="3" fill="#959595" opacity="0.7"/>
<rect x="1653.7" y="1479.5" width="30.4" height="3" fill="#959595" opacity="0.7"/>
<polygon points="1696,1132 1724,1132 1725,1527.4 1692,1527.4" fill="url(#lg21)" filter="url(#lblur)"/>
<rect x="1695.5" y="1274.0" width="27.8" height="4" fill="#636363" opacity="0.7"/>
<rect x="1695.2" y="1307.5" width="28.2" height="3" fill="#7c7c7c" opacity="0.7"/>
<rect x="1694.9" y="1333.0" width="28.6" height="4" fill="#707070" opacity="0.7"/>
<rect x="1694.6" y="1368.0" width="29.0" height="4" fill="#747474" opacity="0.7"/>
<rect x="1693.6" y="1463.5" width="30.2" height="3" fill="#8d8d8d" opacity="0.7"/>
<rect x="1693.5" y="1479.5" width="30.4" height="3" fill="#8d8d8d" opacity="0.7"/>
<polygon points="1733,1132 1762,1132 1765,1527.4 1732,1527.4" fill="url(#lg22)" filter="url(#lblur)"/>
<rect x="1733.6" y="1274.0" width="28.5" height="4" fill="#4d4d4d" opacity="0.7"/>
<rect x="1733.6" y="1307.5" width="28.8" height="3" fill="#696969" opacity="0.7"/>
<rect x="1733.5" y="1333.0" width="29.1" height="4" fill="#5c5c5c" opacity="0.7"/>
<rect x="1733.4" y="1368.0" width="29.4" height="4" fill="#606060" opacity="0.7"/>
<rect x="1733.2" y="1463.5" width="30.4" height="3" fill="#777777" opacity="0.7"/>
<rect x="1733.1" y="1479.5" width="30.5" height="3" fill="#777777" opacity="0.7"/>
<polygon points="1771,1132 1798,1132 1803,1527.4 1773,1527.4" fill="url(#lg23)" filter="url(#lblur)"/>
<rect x="1772.7" y="1274.0" width="26.1" height="4" fill="#555555" opacity="0.7"/>
<rect x="1772.9" y="1307.5" width="26.3" height="3" fill="#737373" opacity="0.7"/>
<rect x="1773.0" y="1333.0" width="26.5" height="4" fill="#646464" opacity="0.7"/>
<rect x="1773.2" y="1368.0" width="26.8" height="4" fill="#696969" opacity="0.7"/>
<rect x="1773.7" y="1463.5" width="27.5" height="3" fill="#7d7d7d" opacity="0.7"/>
<rect x="1773.8" y="1479.5" width="27.6" height="3" fill="#7d7d7d" opacity="0.7"/>
<rect x="1497.3" y="1132" width="307.4000000000001" height="395.4000000000001" fill="none" stroke="#000" stroke-width="2.5"/>
<rect x="1497.3" y="1537.7" width="307.4000000000001" height="123.79999999999995" fill="url(#cbbf)"/>
<rect x="1497.3" y="1557.7" width="307.4000000000001" height="2" fill="#1c1c1c" opacity="0.5"/>
<rect x="1497.3" y="1564.2" width="307.4000000000001" height="2" fill="#1c1c1c" opacity="0.5"/>
<rect x="1497.3" y="1570.7" width="307.4000000000001" height="2" fill="#1c1c1c" opacity="0.5"/>
<rect x="1497.3" y="1577.2" width="307.4000000000001" height="2" fill="#1c1c1c" opacity="0.5"/>
<rect x="1497.3" y="1583.7" width="307.4000000000001" height="2" fill="#1c1c1c" opacity="0.5"/>
<rect x="1497.3" y="1590.2" width="307.4000000000001" height="2" fill="#1c1c1c" opacity="0.5"/>
<rect x="1497.3" y="1596.7" width="307.4000000000001" height="2" fill="#1c1c1c" opacity="0.5"/>
<rect x="1497.3" y="1603.2" width="307.4000000000001" height="2" fill="#1c1c1c" opacity="0.5"/>
<rect x="1497.3" y="1609.7" width="307.4000000000001" height="2" fill="#1c1c1c" opacity="0.5"/>
<rect x="1497.3" y="1616.2" width="307.4000000000001" height="2" fill="#1c1c1c" opacity="0.5"/>
<rect x="1497.3" y="1622.7" width="307.4000000000001" height="2" fill="#1c1c1c" opacity="0.5"/>
<rect x="1497.3" y="1629.2" width="307.4000000000001" height="2" fill="#1c1c1c" opacity="0.5"/>
<rect x="1497.3" y="1635.7" width="307.4000000000001" height="2" fill="#1c1c1c" opacity="0.5"/>
<rect x="1497.3" y="1642.2" width="307.4000000000001" height="2" fill="#1c1c1c" opacity="0.5"/>
<rect x="1497.3" y="1648.7" width="307.4000000000001" height="2" fill="#1c1c1c" opacity="0.5"/>
<polygon points="1533,1537.7 1541,1537.7 1536,1661.5 1528,1661.5" fill="#8c8c8c" filter="url(#lblur)" opacity="0.85"/>
<polygon points="1572,1537.7 1580,1537.7 1574,1661.5 1566,1661.5" fill="#8c8c8c" filter="url(#lblur)" opacity="0.85"/>
<polygon points="1610,1537.7 1618,1537.7 1614,1661.5 1606,1661.5" fill="#8c8c8c" filter="url(#lblur)" opacity="0.85"/>
<polygon points="1648,1537.7 1656,1537.7 1652,1661.5 1644,1661.5" fill="#8c8c8c" filter="url(#lblur)" opacity="0.85"/>
<polygon points="1686,1537.7 1694,1537.7 1692,1661.5 1684,1661.5" fill="#8c8c8c" filter="url(#lblur)" opacity="0.85"/>
<polygon points="1724,1537.7 1732,1537.7 1732,1661.5 1724,1661.5" fill="#8c8c8c" filter="url(#lblur)" opacity="0.85"/>
<polygon points="1762,1537.7 1770,1537.7 1773,1661.5 1765,1661.5" fill="#8c8c8c" filter="url(#lblur)" opacity="0.85"/>
<polygon points="1798,1537.7 1806,1537.7 1808,1661.5 1800,1661.5" fill="#8c8c8c" filter="url(#lblur)" opacity="0.85"/>
<rect x="1497.3" y="1537.7" width="307.4000000000001" height="123.79999999999995" fill="none" stroke="#000" stroke-width="2.5"/>
<rect x="1497.3" y="1666.5" width="307.4000000000001" height="84.20000000000005" fill="#cbcbcb"/>
<rect x="1501" y="1696" width="33" height="25" rx="11.4" fill="#040404" filter="url(#bblur2)"/>
<rect x="1539.5" y="1697" width="31.799999999999955" height="23" rx="10.5" fill="#040404" filter="url(#bblur2)"/>
<rect x="1578" y="1700" width="29.59999999999991" height="18" rx="8.2" fill="#060606" filter="url(#bblur2)"/>
<rect x="1614" y="1698" width="31.700000000000045" height="22" rx="10.0" fill="#040404" filter="url(#bblur2)"/>
<rect x="1652.5" y="1698" width="30.5" height="22" rx="10.0" fill="#040404" filter="url(#bblur2)"/>
<rect x="1694.7" y="1703" width="23.799999999999955" height="10" rx="4.5" fill="#151515" filter="url(#bblur2)"/>
<rect x="1733" y="1705" width="25" height="6" rx="2.7" fill="#7a7a7a" filter="url(#bblur2)"/>
<rect x="1769.4" y="1704" width="28.0" height="8" rx="3.6" fill="#6a6a6a" filter="url(#bblur2)"/>
<rect x="1497.3" y="1666.5" width="307.4000000000001" height="84.20000000000005" fill="none" stroke="#000" stroke-width="2.5"/>
<text x="1485.5" y="1362.6" font-size="31" text-anchor="end" fill="#000">Rho</text>
<text x="1485.5" y="1617.4" font-size="31" text-anchor="end" fill="#000">CBB</text>
<text x="1485.5" y="1724.7" font-size="31" text-anchor="end" fill="#000">V5</text>
<text x="1815.4" y="1150" font-size="22.5" text-anchor="start" fill="#000">KDa</text>
<text x="1813.4" y="1184" font-size="23" text-anchor="start" fill="#000">–190</text>
<text x="1813.4" y="1213.5" font-size="23" text-anchor="start" fill="#000">–140</text>
<text x="1813.4" y="1252" font-size="23" text-anchor="start" fill="#000">– 95</text>
<text x="1813.4" y="1293" font-size="23" text-anchor="start" fill="#000">– 70</text>
<text x="1813.4" y="1321" font-size="23" text-anchor="start" fill="#000">– 55</text>
<text x="1813.4" y="1354.5" font-size="23" text-anchor="start" fill="#000">– 43</text>
<text x="1813.4" y="1388" font-size="23" text-anchor="start" fill="#000">– 33</text>
<text x="1813.4" y="1423.5" font-size="23" text-anchor="start" fill="#000">– 26</text>
<text x="1813.4" y="1448.5" font-size="23" text-anchor="start" fill="#000">– 20</text>
<text x="1813.4" y="1497" font-size="23" text-anchor="start" fill="#000">– 15</text>
<text x="1813.4" y="1524" font-size="23" text-anchor="start" fill="#000">– 10</text>
<text x="1813.4" y="1566" font-size="23" text-anchor="start" fill="#000">–190</text>
<text x="1813.4" y="1606" font-size="23" text-anchor="start" fill="#000">– 70</text>
<text x="1813.4" y="1662" font-size="23" text-anchor="start" fill="#000">– 20</text>
<text x="1813.4" y="1688.5" font-size="23" text-anchor="start" fill="#000">– 43</text>
<text x="1813.4" y="1723" font-size="23" text-anchor="start" fill="#000">– 33</text>
<text x="1813.4" y="1759" font-size="23" text-anchor="start" fill="#000">– 26</text>
<text x="575.0" y="967" font-size="57" text-anchor="start" fill="#000">e</text>
<line x1="747.5" y1="1005.9" x2="747.5" y2="1219.2" stroke="#000" stroke-width="2.2"/>
<line x1="746.4" y1="1218.2" x2="1269.9" y2="1218.2" stroke="#000" stroke-width="2.2"/>
<line x1="737" y1="1006.9000000000001" x2="747.5" y2="1006.9000000000001" stroke="#000" stroke-width="2.2"/>
<text x="732.6" y="1018.4000000000001" font-size="33" text-anchor="end" fill="#000">1.0</text>
<line x1="737" y1="1112.55" x2="747.5" y2="1112.55" stroke="#000" stroke-width="2.2"/>
<text x="732.6" y="1124.05" font-size="33" text-anchor="end" fill="#000">0.5</text>
<line x1="737" y1="1218.2" x2="747.5" y2="1218.2" stroke="#000" stroke-width="2.2"/>
<text x="732.6" y="1229.7" font-size="33" text-anchor="end" fill="#000">0.0</text>
<line x1="747.5" y1="1218.2" x2="747.5" y2="1229" stroke="#000" stroke-width="2.2"/>
<text x="747.5" y="1263" font-size="32" text-anchor="middle" fill="#000">300</text>
<line x1="877.85" y1="1218.2" x2="877.85" y2="1229" stroke="#000" stroke-width="2.2"/>
<text x="877.85" y="1263" font-size="32" text-anchor="middle" fill="#000">400</text>
<line x1="1008.2" y1="1218.2" x2="1008.2" y2="1229" stroke="#000" stroke-width="2.2"/>
<text x="1008.2" y="1263" font-size="32" text-anchor="middle" fill="#000">500</text>
<line x1="1138.55" y1="1218.2" x2="1138.55" y2="1229" stroke="#000" stroke-width="2.2"/>
<text x="1138.55" y="1263" font-size="32" text-anchor="middle" fill="#000">600</text>
<line x1="1268.9" y1="1218.2" x2="1268.9" y2="1229" stroke="#000" stroke-width="2.2"/>
<text x="1268.9" y="1263" font-size="32" text-anchor="middle" fill="#000">700</text>
<text x="1000" y="1297" font-size="31" text-anchor="middle" fill="#000">Wavelength (nm)</text>
<text x="659" y="1111" font-size="31.5" text-anchor="middle" fill="#000" transform="rotate(-90 659 1111)">Relative fluorescence</text>
<polyline points="874.7,1216.1 894.3,1196.0 913.8,1118.9 933.4,1036.5 952.9,1006.9 972.5,1020.6 992.0,1020.6 1011.6,1061.4 1031.1,1092.9 1050.7,1129.5 1070.2,1161.6 1089.8,1177.0 1109.4,1185.2 1128.9,1196.2 1148.5,1204.9 1168.0,1210.0 1187.6,1210.8 1207.1,1215.0" fill="none" stroke="#1e9a63" stroke-width="2"/>
<rect x="871.1" y="1212.5" width="7.2" height="7.2" fill="#1b7a4e"/>
<rect x="890.7" y="1192.4" width="7.2" height="7.2" fill="#1b7a4e"/>
<rect x="910.2" y="1115.3" width="7.2" height="7.2" fill="#1b7a4e"/>
<rect x="929.8" y="1032.9" width="7.2" height="7.2" fill="#1b7a4e"/>
<rect x="949.3" y="1003.3" width="7.2" height="7.2" fill="#1b7a4e"/>
<line x1="972.4841" y1="1018.5215" x2="972.4841" y2="1022.7475000000001" stroke="#1b7a4e" stroke-width="1.6"/>
<line x1="968.9841" y1="1018.5215" x2="975.9841" y2="1018.5215" stroke="#1b7a4e" stroke-width="1.6"/>
<line x1="968.9841" y1="1022.7475000000001" x2="975.9841" y2="1022.7475000000001" stroke="#1b7a4e" stroke-width="1.6"/>
<rect x="968.9" y="1017.0" width="7.2" height="7.2" fill="#1b7a4e"/>
<line x1="992.0366" y1="1014.2955" x2="992.0366" y2="1026.9735" stroke="#1b7a4e" stroke-width="1.6"/>
<line x1="988.5366" y1="1014.2955" x2="995.5366" y2="1014.2955" stroke="#1b7a4e" stroke-width="1.6"/>
<line x1="988.5366" y1="1026.9735" x2="995.5366" y2="1026.9735" stroke="#1b7a4e" stroke-width="1.6"/>
<rect x="988.4" y="1017.0" width="7.2" height="7.2" fill="#1b7a4e"/>
<line x1="1011.5891" y1="1054.0199" x2="1011.5891" y2="1068.8109000000002" stroke="#1b7a4e" stroke-width="1.6"/>
<line x1="1008.0891" y1="1054.0199" x2="1015.0891" y2="1054.0199" stroke="#1b7a4e" stroke-width="1.6"/>
<line x1="1008.0891" y1="1068.8109000000002" x2="1015.0891" y2="1068.8109000000002" stroke="#1b7a4e" stroke-width="1.6"/>
<rect x="1008.0" y="1057.8" width="7.2" height="7.2" fill="#1b7a4e"/>
<rect x="1027.5" y="1089.3" width="7.2" height="7.2" fill="#1b7a4e"/>
<rect x="1047.1" y="1125.9" width="7.2" height="7.2" fill="#1b7a4e"/>
<rect x="1066.6" y="1158.0" width="7.2" height="7.2" fill="#1b7a4e"/>
<rect x="1086.2" y="1173.4" width="7.2" height="7.2" fill="#1b7a4e"/>
<rect x="1105.8" y="1181.6" width="7.2" height="7.2" fill="#1b7a4e"/>
<rect x="1125.3" y="1192.6" width="7.2" height="7.2" fill="#1b7a4e"/>
<rect x="1144.9" y="1201.3" width="7.2" height="7.2" fill="#1b7a4e"/>
<rect x="1164.4" y="1206.4" width="7.2" height="7.2" fill="#1b7a4e"/>
<rect x="1184.0" y="1207.2" width="7.2" height="7.2" fill="#1b7a4e"/>
<rect x="1203.5" y="1211.4" width="7.2" height="7.2" fill="#1b7a4e"/>
<polyline points="874.7,1216.1 894.3,1196.0 913.8,1123.1 933.4,1036.5 952.9,1006.9 972.5,1037.1 992.0,1054.0 1011.6,1104.7 1031.1,1134.1 1050.7,1165.6 1070.2,1185.2 1089.8,1195.4 1109.4,1202.1 1128.9,1207.2 1148.5,1210.8 1168.0,1213.1 1187.6,1214.0 1207.1,1215.0" fill="none" stroke="#62a8e0" stroke-width="2"/>
<circle cx="874.7" cy="1216.1" r="3.8" fill="#2b3fd6"/>
<circle cx="894.3" cy="1196.0" r="3.8" fill="#2b3fd6"/>
<line x1="913.8266000000001" y1="1121.002" x2="913.8266000000001" y2="1125.228" stroke="#2b3fd6" stroke-width="1.6"/>
<line x1="910.3266000000001" y1="1121.002" x2="917.3266000000001" y2="1121.002" stroke="#2b3fd6" stroke-width="1.6"/>
<line x1="910.3266000000001" y1="1125.228" x2="917.3266000000001" y2="1125.228" stroke="#2b3fd6" stroke-width="1.6"/>
<circle cx="913.8" cy="1123.1" r="3.8" fill="#2b3fd6"/>
<circle cx="933.4" cy="1036.5" r="3.8" fill="#2b3fd6"/>
<circle cx="952.9" cy="1006.9" r="3.8" fill="#2b3fd6"/>
<line x1="972.4841" y1="1032.8899" x2="972.4841" y2="1041.3419000000001" stroke="#2b3fd6" stroke-width="1.6"/>
<line x1="968.9841" y1="1032.8899" x2="975.9841" y2="1032.8899" stroke="#2b3fd6" stroke-width="1.6"/>
<line x1="968.9841" y1="1041.3419000000001" x2="975.9841" y2="1041.3419000000001" stroke="#2b3fd6" stroke-width="1.6"/>
<circle cx="972.5" cy="1037.1" r="3.8" fill="#2b3fd6"/>
<line x1="992.0366" y1="1047.6809" x2="992.0366" y2="1060.3589" stroke="#2b3fd6" stroke-width="1.6"/>
<line x1="988.5366" y1="1047.6809" x2="995.5366" y2="1047.6809" stroke="#2b3fd6" stroke-width="1.6"/>
<line x1="988.5366" y1="1060.3589" x2="995.5366" y2="1060.3589" stroke="#2b3fd6" stroke-width="1.6"/>
<circle cx="992.0" cy="1054.0" r="3.8" fill="#2b3fd6"/>
<line x1="1011.5891" y1="1100.5058999999999" x2="1011.5891" y2="1108.9579" stroke="#2b3fd6" stroke-width="1.6"/>
<line x1="1008.0891" y1="1100.5058999999999" x2="1015.0891" y2="1100.5058999999999" stroke="#2b3fd6" stroke-width="1.6"/>
<line x1="1008.0891" y1="1108.9579" x2="1015.0891" y2="1108.9579" stroke="#2b3fd6" stroke-width="1.6"/>
<circle cx="1011.6" cy="1104.7" r="3.8" fill="#2b3fd6"/>
<line x1="1031.1416" y1="1129.8765999999998" x2="1031.1416" y2="1138.3286" stroke="#2b3fd6" stroke-width="1.6"/>
<line x1="1027.6416" y1="1129.8765999999998" x2="1034.6416" y2="1129.8765999999998" stroke="#2b3fd6" stroke-width="1.6"/>
<line x1="1027.6416" y1="1138.3286" x2="1034.6416" y2="1138.3286" stroke="#2b3fd6" stroke-width="1.6"/>
<circle cx="1031.1" cy="1134.1" r="3.8" fill="#2b3fd6"/>
<circle cx="1050.7" cy="1165.6" r="3.8" fill="#2b3fd6"/>
<circle cx="1070.2" cy="1185.2" r="3.8" fill="#2b3fd6"/>
<circle cx="1089.8" cy="1195.4" r="3.8" fill="#2b3fd6"/>
<circle cx="1109.4" cy="1202.1" r="3.8" fill="#2b3fd6"/>
<circle cx="1128.9" cy="1207.2" r="3.8" fill="#2b3fd6"/>
<circle cx="1148.5" cy="1210.8" r="3.8" fill="#2b3fd6"/>
<circle cx="1168.0" cy="1213.1" r="3.8" fill="#2b3fd6"/>
<circle cx="1187.6" cy="1214.0" r="3.8" fill="#2b3fd6"/>
<circle cx="1207.1" cy="1215.0" r="3.8" fill="#2b3fd6"/>
<line x1="1056" y1="1023" x2="1090.5" y2="1023" stroke="#62a8e0" stroke-width="2"/>
<circle cx="1073" cy="1023" r="3.8" fill="#2b3fd6"/>
<text x="1107.0" y="1032" font-size="28" text-anchor="start" fill="#000">Nluc</text>
<line x1="1056" y1="1065.5" x2="1090.5" y2="1065.5" stroke="#1e9a63" stroke-width="2"/>
<rect x="1069.4" y="1061.9" width="7.2" height="7.2" fill="#1b7a4e"/>
<text x="1107.0" y="1075" font-size="28" text-anchor="start" fill="#000">BRET-ID</text>
<text x="575.0" y="1342.5" font-size="57" text-anchor="start" fill="#000">g</text>
<line x1="745.6" y1="1354.4" x2="745.6" y2="1634.6" stroke="#000" stroke-width="2.2"/>
<line x1="744.6" y1="1633.6" x2="1299" y2="1633.6" stroke="#000" stroke-width="2.2"/>
<line x1="725" y1="1355.35" x2="745.6" y2="1355.35" stroke="#000" stroke-width="2.2"/>
<text x="718.6" y="1366.85" font-size="32" text-anchor="end" fill="#000">1.5</text>
<line x1="725" y1="1448.1" x2="745.6" y2="1448.1" stroke="#000" stroke-width="2.2"/>
<text x="718.6" y="1459.6" font-size="32" text-anchor="end" fill="#000">1.0</text>
<line x1="725" y1="1540.85" x2="745.6" y2="1540.85" stroke="#000" stroke-width="2.2"/>
<text x="718.6" y="1552.35" font-size="32" text-anchor="end" fill="#000">0.5</text>
<line x1="725" y1="1633.6" x2="745.6" y2="1633.6" stroke="#000" stroke-width="2.2"/>
<text x="718.6" y="1645.1" font-size="32" text-anchor="end" fill="#000">0.0</text>
<text x="661" y="1502" font-size="31.5" text-anchor="middle" fill="#000" transform="rotate(-90 661 1502)">Cell viability</text>
<rect x="771.7" y="1448.1" width="50.6" height="185.5" fill="#a1a1a5"/>
<rect x="845.7" y="1447.1725" width="50.6" height="186.4275" fill="#fde0c3"/>
<rect x="920.2" y="1444.3899999999999" width="50.6" height="189.21000000000004" fill="#fac082"/>
<rect x="994.7" y="1481.49" width="50.6" height="152.1099999999999" fill="#c7ddf7"/>
<rect x="1068.7" y="1489.8374999999999" width="50.6" height="143.76250000000005" fill="#589ff9"/>
<rect x="1143.7" y="1437.8975" width="50.6" height="195.70249999999987" fill="#0fbe10"/>
<rect x="1218.7" y="1433.6309999999999" width="50.6" height="199.96900000000005" fill="#12bf12"/>
<line x1="797" y1="1433.26" x2="797" y2="1462.9399999999998" stroke="#000" stroke-width="2.2"/>
<line x1="790.5" y1="1433.26" x2="803.5" y2="1433.26" stroke="#000" stroke-width="2.2"/>
<line x1="790.5" y1="1462.9399999999998" x2="803.5" y2="1462.9399999999998" stroke="#000" stroke-width="2.2"/>
<line x1="797" y1="1633.6" x2="797" y2="1646" stroke="#000" stroke-width="2.2"/>
<line x1="871" y1="1416.5649999999998" x2="871" y2="1477.78" stroke="#000" stroke-width="2.2"/>
<line x1="864.5" y1="1416.5649999999998" x2="877.5" y2="1416.5649999999998" stroke="#000" stroke-width="2.2"/>
<line x1="864.5" y1="1477.78" x2="877.5" y2="1477.78" stroke="#000" stroke-width="2.2"/>
<line x1="871" y1="1633.6" x2="871" y2="1646" stroke="#000" stroke-width="2.2"/>
<line x1="945.5" y1="1422.1299999999999" x2="945.5" y2="1466.6499999999999" stroke="#000" stroke-width="2.2"/>
<line x1="939.0" y1="1422.1299999999999" x2="952.0" y2="1422.1299999999999" stroke="#000" stroke-width="2.2"/>
<line x1="939.0" y1="1466.6499999999999" x2="952.0" y2="1466.6499999999999" stroke="#000" stroke-width="2.2"/>
<line x1="945.5" y1="1633.6" x2="945.5" y2="1646" stroke="#000" stroke-width="2.2"/>
<line x1="1020" y1="1472.215" x2="1020" y2="1490.7649999999999" stroke="#000" stroke-width="2.2"/>
<line x1="1013.5" y1="1472.215" x2="1026.5" y2="1472.215" stroke="#000" stroke-width="2.2"/>
<line x1="1013.5" y1="1490.7649999999999" x2="1026.5" y2="1490.7649999999999" stroke="#000" stroke-width="2.2"/>
<line x1="1020" y1="1633.6" x2="1020" y2="1646" stroke="#000" stroke-width="2.2"/>
<line x1="1094" y1="1471.2875" x2="1094" y2="1508.3874999999998" stroke="#000" stroke-width="2.2"/>
<line x1="1087.5" y1="1471.2875" x2="1100.5" y2="1471.2875" stroke="#000" stroke-width="2.2"/>
<line x1="1087.5" y1="1508.3874999999998" x2="1100.5" y2="1508.3874999999998" stroke="#000" stroke-width="2.2"/>
<line x1="1094" y1="1633.6" x2="1094" y2="1646" stroke="#000" stroke-width="2.2"/>
<line x1="1169" y1="1406.3625" x2="1169" y2="1469.4325" stroke="#000" stroke-width="2.2"/>
<line x1="1162.5" y1="1406.3625" x2="1175.5" y2="1406.3625" stroke="#000" stroke-width="2.2"/>
<line x1="1162.5" y1="1469.4325" x2="1175.5" y2="1469.4325" stroke="#000" stroke-width="2.2"/>
<line x1="1169" y1="1633.6" x2="1169" y2="1646" stroke="#000" stroke-width="2.2"/>
<line x1="1244" y1="1402.4669999999999" x2="1244" y2="1464.7949999999998" stroke="#000" stroke-width="2.2"/>
<line x1="1237.5" y1="1402.4669999999999" x2="1250.5" y2="1402.4669999999999" stroke="#000" stroke-width="2.2"/>
<line x1="1237.5" y1="1464.7949999999998" x2="1250.5" y2="1464.7949999999998" stroke="#000" stroke-width="2.2"/>
<line x1="1244" y1="1633.6" x2="1244" y2="1646" stroke="#000" stroke-width="2.2"/>
<text x="878" y="1394" font-size="31" text-anchor="middle" fill="#000">N.S.</text>
<text x="952.5" y="1394" font-size="31" text-anchor="middle" fill="#000">N.S.</text>
<text x="1169" y="1394" font-size="31" text-anchor="middle" fill="#000">N.S.</text>
<text x="1247" y="1394" font-size="31" text-anchor="middle" fill="#000">N.S.</text>
<text x="1020" y="1437" font-size="31" text-anchor="middle" fill="#000">***</text>
<text x="1094" y="1437" font-size="31" text-anchor="middle" fill="#000">***</text>
<text x="732.2" y="1701" font-size="31" text-anchor="end" fill="#000">Blue light</text>
<text x="732.2" y="1739.5" font-size="31" text-anchor="end" fill="#000">Furimazine</text>
<text x="732.2" y="1778.5" font-size="31" text-anchor="end" fill="#000">Alkyne-aniline</text>
<text x="797" y="1695" font-size="31" text-anchor="middle" fill="#000">-</text>
<text x="871" y="1695" font-size="31" text-anchor="middle" fill="#000">-</text>
<text x="945.5" y="1695" font-size="31" text-anchor="middle" fill="#000">-</text>
<text x="1020" y="1695" font-size="31" text-anchor="middle" fill="#000">+</text>
<text x="1094" y="1695" font-size="31" text-anchor="middle" fill="#000">+</text>
<text x="1169" y="1695" font-size="31" text-anchor="middle" fill="#000">-</text>
<text x="1244" y="1695" font-size="31" text-anchor="middle" fill="#000">-</text>
<text x="797" y="1735" font-size="31" text-anchor="middle" fill="#000">-</text>
<text x="871" y="1735" font-size="31" text-anchor="middle" fill="#000">-</text>
<text x="945.5" y="1735" font-size="31" text-anchor="middle" fill="#000">+</text>
<text x="1020" y="1735" font-size="31" text-anchor="middle" fill="#000">-</text>
<text x="1094" y="1735" font-size="31" text-anchor="middle" fill="#000">-</text>
<text x="1169" y="1738.5" font-size="31" text-anchor="middle" fill="#000">1min</text>
<text x="1244" y="1738.5" font-size="31" text-anchor="middle" fill="#000">5min</text>
<text x="797" y="1776" font-size="31" text-anchor="middle" fill="#000">-</text>
<text x="871" y="1776" font-size="31" text-anchor="middle" fill="#000">+</text>
<text x="945.5" y="1776" font-size="31" text-anchor="middle" fill="#000">-</text>
<text x="1020" y="1776" font-size="31" text-anchor="middle" fill="#000">-</text>
<text x="1094" y="1776" font-size="31" text-anchor="middle" fill="#000">+</text>
<text x="1169" y="1776" font-size="31" text-anchor="middle" fill="#000">+</text>
<text x="1244" y="1776" font-size="31" text-anchor="middle" fill="#000">+</text>
<text x="-2.0" y="1867.5" font-size="57" text-anchor="start" fill="#000">h</text>
<path d="M 261.0 1960.0 C 274.4 1959.5, 284.1 1959.3, 298.0 1961.6 C 311.9 1963.9, 329.0 1968.3, 344.5 1974.0 C 360.0 1979.7, 375.4 1984.8, 390.8 1995.6 C 406.2 2006.4, 425.3 2025.1, 437.2 2039.0 C 449.1 2052.9, 455.3 2063.6, 462.0 2079.0 C 468.7 2094.4, 473.8 2113.6, 477.4 2131.6 C 481.0 2149.6, 482.4 2167.9, 483.5 2187.0 C 484.6 2206.1, 483.0 2228.4, 484.0 2246.0 C 485.0 2263.6, 486.7 2278.7, 489.7 2292.7 C 492.7 2306.7, 498.9 2317.4, 502.0 2329.8 C 505.1 2342.2, 507.8 2355.7, 508.3 2367.0 C 508.8 2378.3, 507.6 2388.6, 505.0 2397.8 C 502.4 2407.1, 498.5 2414.8, 492.8 2422.5 C 487.1 2430.2, 476.1 2435.8, 471.0 2444.0 C 465.9 2452.2, 464.6 2463.2, 462.0 2472.0 C 459.4 2480.8, 459.8 2491.0, 455.7 2496.7 C 451.6 2502.4, 448.0 2503.9, 437.2 2506.0 C 426.4 2508.1, 406.2 2507.5, 390.8 2509.0 C 375.4 2510.5, 360.0 2512.1, 344.5 2515.2 C 329.0 2518.3, 310.9 2524.5, 298.0 2527.6 C 285.1 2530.7, 275.9 2533.2, 267.2 2533.7 C 258.5 2534.2, 252.8 2533.7, 245.6 2530.6 C 238.4 2527.5, 230.7 2522.9, 224.0 2515.2 C 217.3 2507.5, 212.6 2493.6, 205.4 2484.3 C 198.2 2475.0, 188.9 2465.3, 180.7 2459.6 C 172.5 2453.9, 165.8 2454.4, 156.0 2450.3 C 146.2 2446.2, 131.3 2441.6, 122.0 2434.9 C 112.7 2428.2, 104.7 2418.2, 100.3 2410.0 C 95.9 2401.8, 96.0 2393.6, 95.7 2385.4 C 95.5 2377.2, 97.0 2370.0, 98.8 2360.7 C 100.6 2351.4, 104.7 2341.1, 106.5 2329.8 C 108.3 2318.5, 111.1 2307.7, 109.6 2292.7 C 108.1 2277.7, 103.2 2256.1, 97.3 2240.0 C 91.4 2223.9, 81.5 2210.7, 74.0 2196.0 C 66.5 2181.3, 58.3 2167.2, 52.0 2152.0 C 45.7 2136.8, 39.3 2118.7, 36.0 2105.0 C 32.7 2091.3, 32.0 2080.3, 32.4 2069.8 C 32.8 2059.3, 32.8 2050.2, 38.5 2042.0 C 44.2 2033.8, 54.0 2026.2, 66.4 2020.3 C 78.8 2014.4, 98.3 2010.8, 112.7 2006.4 C 127.1 2002.0, 141.6 1998.9, 152.9 1994.0 C 164.2 1989.1, 169.9 1981.9, 180.7 1977.0 C 191.5 1972.1, 204.4 1967.5, 217.8 1964.7 C 231.2 1961.9, 247.6 1960.5, 261.0 1960.0 Z" fill="#f5f5f5" stroke="#cccccc" stroke-width="3.6"/>
<circle cx="275" cy="2302" r="80.5" fill="#f5f5f5" stroke="#d0d0d0" stroke-width="3"/>
<circle cx="275" cy="2302" r="71" fill="#e6e6e6" stroke="#d0d0d0" stroke-width="3" stroke-dasharray="14 5"/>
<path d="M 187.6 2270.2 C 189.1 2267.2, 192.8 2257.9, 196.4 2252.3 C 199.9 2246.8, 204.1 2241.5, 208.7 2236.8 C 213.3 2232.1, 218.6 2227.8, 224.1 2224.2 C 229.6 2220.6, 235.7 2217.5, 241.8 2215.1 C 248.0 2212.8, 254.5 2211.0, 261.0 2210.1 C 267.5 2209.1, 274.3 2208.8, 280.9 2209.2 C 287.5 2209.6, 294.2 2210.8, 300.5 2212.6 C 306.8 2214.4, 313.1 2216.9, 318.9 2220.0 C 324.7 2223.1, 330.3 2227.0, 335.3 2231.2 C 340.4 2235.5, 345.0 2240.4, 349.0 2245.7 C 353.0 2250.9, 357.6 2259.9, 359.3 2262.7 " fill="none" stroke="#cbcbcb" stroke-width="16.2" stroke-linecap="round"/>
<path d="M 187.6 2270.2 C 189.1 2267.2, 192.8 2257.9, 196.4 2252.3 C 199.9 2246.8, 204.1 2241.5, 208.7 2236.8 C 213.3 2232.1, 218.6 2227.8, 224.1 2224.2 C 229.6 2220.6, 235.7 2217.5, 241.8 2215.1 C 248.0 2212.8, 254.5 2211.0, 261.0 2210.1 C 267.5 2209.1, 274.3 2208.8, 280.9 2209.2 C 287.5 2209.6, 294.2 2210.8, 300.5 2212.6 C 306.8 2214.4, 313.1 2216.9, 318.9 2220.0 C 324.7 2223.1, 330.3 2227.0, 335.3 2231.2 C 340.4 2235.5, 345.0 2240.4, 349.0 2245.7 C 353.0 2250.9, 357.6 2259.9, 359.3 2262.7 " fill="none" stroke="#f5f5f5" stroke-width="9" stroke-linecap="round"/>
<path d="M 362.4 2333.8 C 361.8 2335.2, 360.2 2339.3, 359.0 2342.0 C 357.7 2344.6, 356.3 2347.2, 354.8 2349.8 C 353.3 2352.3, 351.6 2354.8, 349.9 2357.1 C 348.1 2359.5, 346.3 2361.8, 344.3 2364.0 C 342.3 2366.2, 340.3 2368.3, 338.1 2370.3 C 335.9 2372.3, 333.7 2374.2, 331.3 2376.0 C 329.0 2377.8, 326.5 2379.5, 324.0 2381.0 C 321.5 2382.6, 318.9 2384.0, 316.3 2385.3 C 313.7 2386.6, 310.9 2387.8, 308.2 2388.9 C 305.4 2389.9, 302.6 2390.9, 299.8 2391.6 C 296.9 2392.4, 292.6 2393.3, 291.1 2393.6 " fill="none" stroke="#cbcbcb" stroke-width="16.2" stroke-linecap="round"/>
<path d="M 362.4 2333.8 C 361.8 2335.2, 360.2 2339.3, 359.0 2342.0 C 357.7 2344.6, 356.3 2347.2, 354.8 2349.8 C 353.3 2352.3, 351.6 2354.8, 349.9 2357.1 C 348.1 2359.5, 346.3 2361.8, 344.3 2364.0 C 342.3 2366.2, 340.3 2368.3, 338.1 2370.3 C 335.9 2372.3, 333.7 2374.2, 331.3 2376.0 C 329.0 2377.8, 326.5 2379.5, 324.0 2381.0 C 321.5 2382.6, 318.9 2384.0, 316.3 2385.3 C 313.7 2386.6, 310.9 2387.8, 308.2 2388.9 C 305.4 2389.9, 302.6 2390.9, 299.8 2391.6 C 296.9 2392.4, 292.6 2393.3, 291.1 2393.6 " fill="none" stroke="#f5f5f5" stroke-width="9" stroke-linecap="round"/>
<path d="M 258.9 2393.6 C 257.4 2393.3, 253.1 2392.4, 250.2 2391.6 C 247.4 2390.9, 244.6 2389.9, 241.8 2388.9 C 239.1 2387.8, 236.3 2386.6, 233.7 2385.3 C 231.1 2384.0, 228.5 2382.6, 226.0 2381.0 C 223.5 2379.5, 221.0 2377.8, 218.7 2376.0 C 216.3 2374.2, 214.1 2372.3, 211.9 2370.3 C 209.7 2368.3, 207.7 2366.2, 205.7 2364.0 C 203.7 2361.8, 201.9 2359.5, 200.1 2357.1 C 198.4 2354.8, 196.7 2352.3, 195.2 2349.8 C 193.7 2347.2, 192.3 2344.6, 191.0 2342.0 C 189.8 2339.3, 188.2 2335.2, 187.6 2333.8 " fill="none" stroke="#cbcbcb" stroke-width="16.2" stroke-linecap="round"/>
<path d="M 258.9 2393.6 C 257.4 2393.3, 253.1 2392.4, 250.2 2391.6 C 247.4 2390.9, 244.6 2389.9, 241.8 2388.9 C 239.1 2387.8, 236.3 2386.6, 233.7 2385.3 C 231.1 2384.0, 228.5 2382.6, 226.0 2381.0 C 223.5 2379.5, 221.0 2377.8, 218.7 2376.0 C 216.3 2374.2, 214.1 2372.3, 211.9 2370.3 C 209.7 2368.3, 207.7 2366.2, 205.7 2364.0 C 203.7 2361.8, 201.9 2359.5, 200.1 2357.1 C 198.4 2354.8, 196.7 2352.3, 195.2 2349.8 C 193.7 2347.2, 192.3 2344.6, 191.0 2342.0 C 189.8 2339.3, 188.2 2335.2, 187.6 2333.8 " fill="none" stroke="#f5f5f5" stroke-width="9" stroke-linecap="round"/>
<path d="M 169.8 2340.3 C 169.4 2339.2, 168.2 2335.8, 167.5 2333.6 C 166.9 2331.3, 166.3 2329.0, 165.8 2326.7 C 165.2 2324.4, 164.8 2322.0, 164.4 2319.7 C 164.0 2317.4, 163.7 2315.0, 163.5 2312.6 C 163.3 2310.3, 163.1 2307.9, 163.1 2305.6 C 163.0 2303.2, 163.0 2300.8, 163.1 2298.4 C 163.1 2296.1, 163.3 2293.7, 163.5 2291.4 C 163.7 2289.0, 164.0 2286.6, 164.4 2284.3 C 164.8 2282.0, 165.2 2279.6, 165.8 2277.3 C 166.3 2275.0, 166.9 2272.7, 167.5 2270.4 C 168.2 2268.2, 169.4 2264.8, 169.8 2263.7 " fill="none" stroke="#cbcbcb" stroke-width="17.2" stroke-linecap="round"/>
<path d="M 169.8 2340.3 C 169.4 2339.2, 168.2 2335.8, 167.5 2333.6 C 166.9 2331.3, 166.3 2329.0, 165.8 2326.7 C 165.2 2324.4, 164.8 2322.0, 164.4 2319.7 C 164.0 2317.4, 163.7 2315.0, 163.5 2312.6 C 163.3 2310.3, 163.1 2307.9, 163.1 2305.6 C 163.0 2303.2, 163.0 2300.8, 163.1 2298.4 C 163.1 2296.1, 163.3 2293.7, 163.5 2291.4 C 163.7 2289.0, 164.0 2286.6, 164.4 2284.3 C 164.8 2282.0, 165.2 2279.6, 165.8 2277.3 C 166.3 2275.0, 166.9 2272.7, 167.5 2270.4 C 168.2 2268.2, 169.4 2264.8, 169.8 2263.7 " fill="none" stroke="#f5f5f5" stroke-width="10" stroke-linecap="round"/>
<path d="M 376.5 2254.7 C 377.1 2256.0, 378.9 2260.1, 379.9 2262.9 C 381.0 2265.6, 381.9 2268.5, 382.7 2271.3 C 383.5 2274.1, 384.2 2277.0, 384.8 2279.9 C 385.4 2282.8, 385.9 2285.8, 386.2 2288.7 C 386.6 2291.6, 386.8 2294.6, 386.9 2297.6 C 387.0 2300.5, 387.0 2303.5, 386.9 2306.4 C 386.8 2309.4, 386.6 2312.4, 386.2 2315.3 C 385.9 2318.2, 385.4 2321.2, 384.8 2324.1 C 384.2 2327.0, 383.5 2329.9, 382.7 2332.7 C 381.9 2335.5, 381.0 2338.4, 379.9 2341.1 C 378.9 2343.9, 377.1 2348.0, 376.5 2349.3 " fill="none" stroke="#cbcbcb" stroke-width="17.2" stroke-linecap="round"/>
<path d="M 376.5 2254.7 C 377.1 2256.0, 378.9 2260.1, 379.9 2262.9 C 381.0 2265.6, 381.9 2268.5, 382.7 2271.3 C 383.5 2274.1, 384.2 2277.0, 384.8 2279.9 C 385.4 2282.8, 385.9 2285.8, 386.2 2288.7 C 386.6 2291.6, 386.8 2294.6, 386.9 2297.6 C 387.0 2300.5, 387.0 2303.5, 386.9 2306.4 C 386.8 2309.4, 386.6 2312.4, 386.2 2315.3 C 385.9 2318.2, 385.4 2321.2, 384.8 2324.1 C 384.2 2327.0, 383.5 2329.9, 382.7 2332.7 C 381.9 2335.5, 381.0 2338.4, 379.9 2341.1 C 378.9 2343.9, 377.1 2348.0, 376.5 2349.3 " fill="none" stroke="#f5f5f5" stroke-width="10" stroke-linecap="round"/>
<path d="M 380.7 2363.0 C 379.9 2364.2, 377.7 2368.0, 376.0 2370.4 C 374.4 2372.8, 372.7 2375.1, 370.9 2377.4 C 369.1 2379.7, 367.2 2381.9, 365.3 2384.1 C 363.3 2386.2, 361.3 2388.3, 359.2 2390.3 C 357.1 2392.3, 354.9 2394.2, 352.7 2396.1 C 350.4 2397.9, 348.1 2399.7, 345.8 2401.4 C 343.4 2403.1, 341.0 2404.7, 338.5 2406.2 C 336.0 2407.7, 333.5 2409.1, 330.9 2410.4 C 328.3 2411.8, 325.7 2413.0, 323.0 2414.1 C 320.4 2415.3, 317.6 2416.3, 314.9 2417.3 C 312.2 2418.2, 308.0 2419.4, 306.6 2419.8 " fill="none" stroke="#cbcbcb" stroke-width="17.2" stroke-linecap="round"/>
<path d="M 380.7 2363.0 C 379.9 2364.2, 377.7 2368.0, 376.0 2370.4 C 374.4 2372.8, 372.7 2375.1, 370.9 2377.4 C 369.1 2379.7, 367.2 2381.9, 365.3 2384.1 C 363.3 2386.2, 361.3 2388.3, 359.2 2390.3 C 357.1 2392.3, 354.9 2394.2, 352.7 2396.1 C 350.4 2397.9, 348.1 2399.7, 345.8 2401.4 C 343.4 2403.1, 341.0 2404.7, 338.5 2406.2 C 336.0 2407.7, 333.5 2409.1, 330.9 2410.4 C 328.3 2411.8, 325.7 2413.0, 323.0 2414.1 C 320.4 2415.3, 317.6 2416.3, 314.9 2417.3 C 312.2 2418.2, 308.0 2419.4, 306.6 2419.8 " fill="none" stroke="#f5f5f5" stroke-width="10" stroke-linecap="round"/>
<path d="M 147.5 2336.2 C 147.2 2334.8, 146.1 2330.7, 145.6 2328.0 C 145.0 2325.3, 144.6 2322.5, 144.2 2319.7 C 143.8 2317.0, 143.5 2314.2, 143.3 2311.4 C 143.1 2308.6, 143.0 2305.8, 143.0 2303.0 C 143.0 2300.3, 143.0 2297.5, 143.2 2294.7 C 143.4 2291.9, 143.6 2289.1, 143.9 2286.3 C 144.3 2283.6, 144.7 2280.8, 145.2 2278.0 C 145.7 2275.3, 146.3 2272.6, 147.0 2269.9 C 147.7 2267.2, 148.4 2264.5, 149.3 2261.8 C 150.1 2259.1, 151.1 2256.5, 152.1 2253.9 C 153.1 2251.3, 154.8 2247.5, 155.4 2246.2 " fill="none" stroke="#cbcbcb" stroke-width="17.2" stroke-linecap="round"/>
<path d="M 147.5 2336.2 C 147.2 2334.8, 146.1 2330.7, 145.6 2328.0 C 145.0 2325.3, 144.6 2322.5, 144.2 2319.7 C 143.8 2317.0, 143.5 2314.2, 143.3 2311.4 C 143.1 2308.6, 143.0 2305.8, 143.0 2303.0 C 143.0 2300.3, 143.0 2297.5, 143.2 2294.7 C 143.4 2291.9, 143.6 2289.1, 143.9 2286.3 C 144.3 2283.6, 144.7 2280.8, 145.2 2278.0 C 145.7 2275.3, 146.3 2272.6, 147.0 2269.9 C 147.7 2267.2, 148.4 2264.5, 149.3 2261.8 C 150.1 2259.1, 151.1 2256.5, 152.1 2253.9 C 153.1 2251.3, 154.8 2247.5, 155.4 2246.2 " fill="none" stroke="#f5f5f5" stroke-width="10" stroke-linecap="round"/>
<path d="M 186.0 2212.0 C 184.2 2215.3, 174.3 2225.7, 175.0 2232.0 C 175.7 2238.3, 189.5 2243.7, 190.0 2250.0 C 190.5 2256.3, 180.0 2266.7, 178.0 2270.0 " fill="none" stroke="#cbcbcb" stroke-width="16.2" stroke-linecap="round"/>
<path d="M 186.0 2212.0 C 184.2 2215.3, 174.3 2225.7, 175.0 2232.0 C 175.7 2238.3, 189.5 2243.7, 190.0 2250.0 C 190.5 2256.3, 180.0 2266.7, 178.0 2270.0 " fill="none" stroke="#f5f5f5" stroke-width="9" stroke-linecap="round"/>
<path d="M 170.0 2128.0 C 175.8 2125.0, 193.3 2116.7, 205.0 2110.0 C 216.7 2103.3, 230.5 2096.3, 240.0 2088.0 C 249.5 2079.7, 259.0 2066.0, 262.0 2060.0 C 265.0 2054.0, 258.7 2053.3, 258.0 2052.0 " fill="none" stroke="#cbcbcb" stroke-width="17.2" stroke-linecap="round"/>
<path d="M 170.0 2128.0 C 175.8 2125.0, 193.3 2116.7, 205.0 2110.0 C 216.7 2103.3, 230.5 2096.3, 240.0 2088.0 C 249.5 2079.7, 259.0 2066.0, 262.0 2060.0 C 265.0 2054.0, 258.7 2053.3, 258.0 2052.0 " fill="none" stroke="#f5f5f5" stroke-width="10" stroke-linecap="round"/>
<path d="M 172.0 2148.0 C 179.2 2145.8, 201.7 2141.0, 215.0 2135.0 C 228.3 2129.0, 242.5 2119.5, 252.0 2112.0 C 261.5 2104.5, 268.7 2093.7, 272.0 2090.0 " fill="none" stroke="#cbcbcb" stroke-width="17.2" stroke-linecap="round"/>
<path d="M 172.0 2148.0 C 179.2 2145.8, 201.7 2141.0, 215.0 2135.0 C 228.3 2129.0, 242.5 2119.5, 252.0 2112.0 C 261.5 2104.5, 268.7 2093.7, 272.0 2090.0 " fill="none" stroke="#f5f5f5" stroke-width="10" stroke-linecap="round"/>
<path d="M 175.0 2168.0 C 182.5 2166.7, 206.2 2164.7, 220.0 2160.0 C 233.8 2155.3, 248.7 2146.0, 258.0 2140.0 C 267.3 2134.0, 273.0 2126.7, 276.0 2124.0 " fill="none" stroke="#cbcbcb" stroke-width="17.2" stroke-linecap="round"/>
<path d="M 175.0 2168.0 C 182.5 2166.7, 206.2 2164.7, 220.0 2160.0 C 233.8 2155.3, 248.7 2146.0, 258.0 2140.0 C 267.3 2134.0, 273.0 2126.7, 276.0 2124.0 " fill="none" stroke="#f5f5f5" stroke-width="10" stroke-linecap="round"/>
<path d="M 185.0 2190.0 C 192.5 2188.0, 215.8 2182.7, 230.0 2178.0 C 244.2 2173.3, 263.3 2164.7, 270.0 2162.0 " fill="none" stroke="#cbcbcb" stroke-width="17.2" stroke-linecap="round"/>
<path d="M 185.0 2190.0 C 192.5 2188.0, 215.8 2182.7, 230.0 2178.0 C 244.2 2173.3, 263.3 2164.7, 270.0 2162.0 " fill="none" stroke="#f5f5f5" stroke-width="10" stroke-linecap="round"/>
<path d="M 170.0 2212.0 C 176.7 2210.8, 194.7 2207.0, 210.0 2205.0 C 225.3 2203.0, 253.3 2200.8, 262.0 2200.0 " fill="none" stroke="#cbcbcb" stroke-width="17.2" stroke-linecap="round"/>
<path d="M 170.0 2212.0 C 176.7 2210.8, 194.7 2207.0, 210.0 2205.0 C 225.3 2203.0, 253.3 2200.8, 262.0 2200.0 " fill="none" stroke="#f5f5f5" stroke-width="10" stroke-linecap="round"/>
<path d="M 200.0 2236.0 C 206.7 2234.7, 226.7 2228.7, 240.0 2228.0 C 253.3 2227.3, 270.0 2229.7, 280.0 2232.0 C 290.0 2234.3, 296.7 2240.3, 300.0 2242.0 " fill="none" stroke="#cbcbcb" stroke-width="17.2" stroke-linecap="round"/>
<path d="M 200.0 2236.0 C 206.7 2234.7, 226.7 2228.7, 240.0 2228.0 C 253.3 2227.3, 270.0 2229.7, 280.0 2232.0 C 290.0 2234.3, 296.7 2240.3, 300.0 2242.0 " fill="none" stroke="#f5f5f5" stroke-width="10" stroke-linecap="round"/>
<circle cx="165" cy="2094.5" r="9" fill="#f5f5f5" stroke="#cbcbcb" stroke-width="3.6"/>
<circle cx="143.6" cy="2122" r="8.5" fill="#f5f5f5" stroke="#cbcbcb" stroke-width="3.6"/>
<circle cx="279.6" cy="2076" r="7" fill="#f5f5f5" stroke="#cbcbcb" stroke-width="3.6"/>
<circle cx="282.7" cy="2100.7" r="7" fill="#f5f5f5" stroke="#cbcbcb" stroke-width="3.6"/>
<circle cx="143.6" cy="2168.7" r="8" fill="#f5f5f5" stroke="#cbcbcb" stroke-width="3.6"/>
<circle cx="260" cy="2055" r="9" fill="#f5f5f5" stroke="#cbcbcb" stroke-width="3.6"/>
<path d="M 232.0 2432.0 C 236.7 2433.3, 249.5 2437.3, 260.0 2440.0 C 270.5 2442.7, 287.3 2446.0, 295.0 2448.0 C 302.7 2450.0, 304.2 2451.3, 306.0 2452.0 " fill="none" stroke="#cbcbcb" stroke-width="18.2" stroke-linecap="round"/>
<path d="M 232.0 2432.0 C 236.7 2433.3, 249.5 2437.3, 260.0 2440.0 C 270.5 2442.7, 287.3 2446.0, 295.0 2448.0 C 302.7 2450.0, 304.2 2451.3, 306.0 2452.0 " fill="none" stroke="#f5f5f5" stroke-width="11" stroke-linecap="round"/>
<path d="M 236.0 2478.0 C 239.2 2481.7, 246.8 2495.5, 255.0 2500.0 C 263.2 2504.5, 278.3 2505.0, 285.0 2505.0 C 291.7 2505.0, 293.3 2500.8, 295.0 2500.0 " fill="none" stroke="#cbcbcb" stroke-width="17.2" stroke-linecap="round"/>
<path d="M 236.0 2478.0 C 239.2 2481.7, 246.8 2495.5, 255.0 2500.0 C 263.2 2504.5, 278.3 2505.0, 285.0 2505.0 C 291.7 2505.0, 293.3 2500.8, 295.0 2500.0 " fill="none" stroke="#f5f5f5" stroke-width="10" stroke-linecap="round"/>
<circle cx="224" cy="2455" r="7" fill="#f5f5f5" stroke="#cbcbcb" stroke-width="3.6"/>
<circle cx="307" cy="2484" r="7" fill="#f5f5f5" stroke="#cbcbcb" stroke-width="3.6"/>
<path d="M 150.0 2268.0 C 148.3 2273.3, 140.3 2288.8, 140.0 2300.0 C 139.7 2311.2, 144.7 2327.5, 148.0 2335.0 C 151.3 2342.5, 158.0 2343.3, 160.0 2345.0 " fill="none" stroke="#cbcbcb" stroke-width="18.2" stroke-linecap="round"/>
<path d="M 150.0 2268.0 C 148.3 2273.3, 140.3 2288.8, 140.0 2300.0 C 139.7 2311.2, 144.7 2327.5, 148.0 2335.0 C 151.3 2342.5, 158.0 2343.3, 160.0 2345.0 " fill="none" stroke="#f5f5f5" stroke-width="11" stroke-linecap="round"/>
<path d="M 180.0 2350.0 C 183.3 2354.7, 190.0 2370.5, 200.0 2378.0 C 210.0 2385.5, 225.0 2392.0, 240.0 2395.0 C 255.0 2398.0, 275.0 2397.7, 290.0 2396.0 C 305.0 2394.3, 323.3 2386.8, 330.0 2385.0 " fill="none" stroke="#cbcbcb" stroke-width="18.2" stroke-linecap="round"/>
<path d="M 180.0 2350.0 C 183.3 2354.7, 190.0 2370.5, 200.0 2378.0 C 210.0 2385.5, 225.0 2392.0, 240.0 2395.0 C 255.0 2398.0, 275.0 2397.7, 290.0 2396.0 C 305.0 2394.3, 323.3 2386.8, 330.0 2385.0 " fill="none" stroke="#f5f5f5" stroke-width="11" stroke-linecap="round"/>
<path d="M 305.0 2410.0 C 310.8 2408.3, 328.3 2405.3, 340.0 2400.0 C 351.7 2394.7, 367.5 2384.7, 375.0 2378.0 C 382.5 2371.3, 383.3 2363.0, 385.0 2360.0 " fill="none" stroke="#cbcbcb" stroke-width="18.2" stroke-linecap="round"/>
<path d="M 305.0 2410.0 C 310.8 2408.3, 328.3 2405.3, 340.0 2400.0 C 351.7 2394.7, 367.5 2384.7, 375.0 2378.0 C 382.5 2371.3, 383.3 2363.0, 385.0 2360.0 " fill="none" stroke="#f5f5f5" stroke-width="11" stroke-linecap="round"/>
<path d="M 350.0 2257.0 C 352.5 2262.5, 362.0 2277.8, 365.0 2290.0 C 368.0 2302.2, 369.7 2316.7, 368.0 2330.0 C 366.3 2343.3, 357.2 2363.3, 355.0 2370.0 " fill="none" stroke="#cbcbcb" stroke-width="17.2" stroke-linecap="round"/>
<path d="M 350.0 2257.0 C 352.5 2262.5, 362.0 2277.8, 365.0 2290.0 C 368.0 2302.2, 369.7 2316.7, 368.0 2330.0 C 366.3 2343.3, 357.2 2363.3, 355.0 2370.0 " fill="none" stroke="#f5f5f5" stroke-width="10" stroke-linecap="round"/>
<g transform="rotate(-35 372 2150)">
<ellipse cx="372" cy="2150" rx="30" ry="62" fill="#efefef" stroke="#cbcbcb" stroke-width="3.5"/>
<line x1="359.7" y1="2098.0" x2="373.8" y2="2098.0" stroke="#cbcbcb" stroke-width="4" stroke-linecap="round"/>
<line x1="388.1" y1="2106.7" x2="369.6" y2="2106.7" stroke="#cbcbcb" stroke-width="4" stroke-linecap="round"/>
<line x1="353.3" y1="2115.3" x2="374.8" y2="2115.3" stroke="#cbcbcb" stroke-width="4" stroke-linecap="round"/>
<line x1="392.4" y1="2124.0" x2="368.9" y2="2124.0" stroke="#cbcbcb" stroke-width="4" stroke-linecap="round"/>
<line x1="350.4" y1="2132.7" x2="375.2" y2="2132.7" stroke="#cbcbcb" stroke-width="4" stroke-linecap="round"/>
<line x1="394.3" y1="2141.3" x2="368.7" y2="2141.3" stroke="#cbcbcb" stroke-width="4" stroke-linecap="round"/>
<line x1="349.5" y1="2150.0" x2="375.4" y2="2150.0" stroke="#cbcbcb" stroke-width="4" stroke-linecap="round"/>
<line x1="394.3" y1="2158.7" x2="368.7" y2="2158.7" stroke="#cbcbcb" stroke-width="4" stroke-linecap="round"/>
<line x1="350.4" y1="2167.3" x2="375.2" y2="2167.3" stroke="#cbcbcb" stroke-width="4" stroke-linecap="round"/>
<line x1="392.4" y1="2176.0" x2="368.9" y2="2176.0" stroke="#cbcbcb" stroke-width="4" stroke-linecap="round"/>
<line x1="353.3" y1="2184.7" x2="374.8" y2="2184.7" stroke="#cbcbcb" stroke-width="4" stroke-linecap="round"/>
<line x1="388.1" y1="2193.3" x2="369.6" y2="2193.3" stroke="#cbcbcb" stroke-width="4" stroke-linecap="round"/>
<line x1="359.7" y1="2202.0" x2="373.8" y2="2202.0" stroke="#cbcbcb" stroke-width="4" stroke-linecap="round"/>
</g>
<g transform="rotate(12 448 2310)">
<ellipse cx="448" cy="2310" rx="26" ry="55" fill="#efefef" stroke="#cbcbcb" stroke-width="3.5"/>
<line x1="436.8" y1="2265.0" x2="449.7" y2="2265.0" stroke="#cbcbcb" stroke-width="4" stroke-linecap="round"/>
<line x1="462.5" y1="2273.2" x2="445.8" y2="2273.2" stroke="#cbcbcb" stroke-width="4" stroke-linecap="round"/>
<line x1="431.4" y1="2281.4" x2="450.5" y2="2281.4" stroke="#cbcbcb" stroke-width="4" stroke-linecap="round"/>
<line x1="466.1" y1="2289.5" x2="445.3" y2="2289.5" stroke="#cbcbcb" stroke-width="4" stroke-linecap="round"/>
<line x1="429.0" y1="2297.7" x2="450.9" y2="2297.7" stroke="#cbcbcb" stroke-width="4" stroke-linecap="round"/>
<line x1="467.4" y1="2305.9" x2="445.1" y2="2305.9" stroke="#cbcbcb" stroke-width="4" stroke-linecap="round"/>
<line x1="428.6" y1="2314.1" x2="450.9" y2="2314.1" stroke="#cbcbcb" stroke-width="4" stroke-linecap="round"/>
<line x1="467.0" y1="2322.3" x2="445.1" y2="2322.3" stroke="#cbcbcb" stroke-width="4" stroke-linecap="round"/>
<line x1="429.9" y1="2330.5" x2="450.7" y2="2330.5" stroke="#cbcbcb" stroke-width="4" stroke-linecap="round"/>
<line x1="464.6" y1="2338.6" x2="445.5" y2="2338.6" stroke="#cbcbcb" stroke-width="4" stroke-linecap="round"/>
<line x1="433.5" y1="2346.8" x2="450.2" y2="2346.8" stroke="#cbcbcb" stroke-width="4" stroke-linecap="round"/>
<line x1="459.2" y1="2355.0" x2="446.3" y2="2355.0" stroke="#cbcbcb" stroke-width="4" stroke-linecap="round"/>
</g>
<path d="M 287.3 2005 Q 299.8 1988.6, 304.3 1980.2" fill="none" stroke="#1d5a6a" stroke-width="1.8"/>
<circle cx="287.3" cy="2005" r="17.5" fill="url(#sg)"/>
<rect x="279.8" y="1998" width="15" height="14" rx="4" fill="#6aa63a" stroke="#b8e478" stroke-width="1.2" transform="rotate(-12 287.3 2005)"/>
<circle cx="287.3" cy="2005" r="3.2" fill="#d8932c" opacity="0.9"/>
<circle cx="304.3" cy="1980.2" r="9.5" fill="url(#sb)"/>
<circle cx="304.3" cy="1980.2" r="7.4" fill="#0b68a0"/>
<path d="M 315 2048 Q 305.15 2040.2, 287.3 2040.4" fill="none" stroke="#1d5a6a" stroke-width="1.8"/>
<circle cx="315" cy="2048" r="17.5" fill="url(#sg)"/>
<rect x="307.5" y="2041" width="15" height="14" rx="4" fill="#6aa63a" stroke="#b8e478" stroke-width="1.2" transform="rotate(-12 315 2048)"/>
<circle cx="315" cy="2048" r="3.2" fill="#d8932c" opacity="0.9"/>
<circle cx="287.3" cy="2040.4" r="9.5" fill="url(#sb)"/>
<circle cx="287.3" cy="2040.4" r="7.4" fill="#0b68a0"/>
<path d="M 377 2119.2 Q 367.0 2112.8999999999996, 349 2114.6" fill="none" stroke="#1d5a6a" stroke-width="1.8"/>
<circle cx="377" cy="2119.2" r="17.5" fill="url(#sg)"/>
<rect x="369.5" y="2112.2" width="15" height="14" rx="4" fill="#6aa63a" stroke="#b8e478" stroke-width="1.2" transform="rotate(-12 377 2119.2)"/>
<circle cx="377" cy="2119.2" r="3.2" fill="#d8932c" opacity="0.9"/>
<circle cx="349" cy="2114.6" r="9.5" fill="url(#sb)"/>
<circle cx="349" cy="2114.6" r="7.4" fill="#0b68a0"/>
<path d="M 171.4 2187.2 Q 172.3 2196.35, 165.2 2213.5" fill="none" stroke="#1d5a6a" stroke-width="1.8"/>
<circle cx="171.4" cy="2187.2" r="17.5" fill="url(#sg)"/>
<rect x="163.9" y="2180.2" width="15" height="14" rx="4" fill="#6aa63a" stroke="#b8e478" stroke-width="1.2" transform="rotate(-12 171.4 2187.2)"/>
<circle cx="171.4" cy="2187.2" r="3.2" fill="#d8932c" opacity="0.9"/>
<circle cx="165.2" cy="2213.5" r="9.5" fill="url(#sb)"/>
<circle cx="165.2" cy="2213.5" r="7.4" fill="#0b68a0"/>
<path d="M 203.9 2191.9 Q 220.95 2183.25, 230 2182.6" fill="none" stroke="#1d5a6a" stroke-width="1.8"/>
<circle cx="203.9" cy="2191.9" r="17.5" fill="url(#sg)"/>
<rect x="196.4" y="2184.9" width="15" height="14" rx="4" fill="#6aa63a" stroke="#b8e478" stroke-width="1.2" transform="rotate(-12 203.9 2191.9)"/>
<circle cx="203.9" cy="2191.9" r="3.2" fill="#d8932c" opacity="0.9"/>
<circle cx="230" cy="2182.6" r="9.5" fill="url(#sb)"/>
<circle cx="230" cy="2182.6" r="7.4" fill="#0b68a0"/>
<path d="M 369 2212 Q 384.7 2215.7, 392.4 2227.4" fill="none" stroke="#1d5a6a" stroke-width="1.8"/>
<circle cx="369" cy="2212" r="17.5" fill="url(#sg)"/>
<rect x="361.5" y="2205" width="15" height="14" rx="4" fill="#6aa63a" stroke="#b8e478" stroke-width="1.2" transform="rotate(-12 369 2212)"/>
<circle cx="369" cy="2212" r="3.2" fill="#d8932c" opacity="0.9"/>
<circle cx="392.4" cy="2227.4" r="9.5" fill="url(#sb)"/>
<circle cx="392.4" cy="2227.4" r="7.4" fill="#0b68a0"/>
<path d="M 285.8 2261.8 Q 304.4 2259.4, 315 2265" fill="none" stroke="#1d5a6a" stroke-width="1.8"/>
<circle cx="285.8" cy="2261.8" r="17.5" fill="url(#sg)"/>
<rect x="278.3" y="2254.8" width="15" height="14" rx="4" fill="#6aa63a" stroke="#b8e478" stroke-width="1.2" transform="rotate(-12 285.8 2261.8)"/>
<circle cx="285.8" cy="2261.8" r="3.2" fill="#d8932c" opacity="0.9"/>
<circle cx="315" cy="2265" r="9.5" fill="url(#sb)"/>
<circle cx="315" cy="2265" r="7.4" fill="#0b68a0"/>
<path d="M 262.6 2326.7 Q 258.1 2334.35, 245.6 2350" fill="none" stroke="#1d5a6a" stroke-width="1.8"/>
<circle cx="262.6" cy="2326.7" r="17.5" fill="url(#sg)"/>
<rect x="255.10000000000002" y="2319.7" width="15" height="14" rx="4" fill="#6aa63a" stroke="#b8e478" stroke-width="1.2" transform="rotate(-12 262.6 2326.7)"/>
<circle cx="262.6" cy="2326.7" r="3.2" fill="#d8932c" opacity="0.9"/>
<circle cx="245.6" cy="2350" r="9.5" fill="url(#sb)"/>
<circle cx="245.6" cy="2350" r="7.4" fill="#0b68a0"/>
<path d="M 389.3 2272.6 Q 402.55 2279.45, 407.8 2294.3" fill="none" stroke="#1d5a6a" stroke-width="1.8"/>
<circle cx="389.3" cy="2272.6" r="17.5" fill="url(#sg)"/>
<rect x="381.8" y="2265.6" width="15" height="14" rx="4" fill="#6aa63a" stroke="#b8e478" stroke-width="1.2" transform="rotate(-12 389.3 2272.6)"/>
<circle cx="389.3" cy="2272.6" r="3.2" fill="#d8932c" opacity="0.9"/>
<circle cx="407.8" cy="2294.3" r="9.5" fill="url(#sb)"/>
<circle cx="407.8" cy="2294.3" r="7.4" fill="#0b68a0"/>
<text x="323.8" y="2029" font-size="31" text-anchor="start" fill="#000">Untargeted</text>
<text x="297.3" y="2151.5" font-size="31" text-anchor="start" fill="#000">Mito matrix</text>
<text x="131.8" y="2162.5" font-size="31" text-anchor="start" fill="#000">ERM</text>
<text x="403.8" y="2253.5" font-size="31" text-anchor="start" fill="#000">OMM</text>
<text x="216.8" y="2303.5" font-size="31" text-anchor="start" fill="#000">NLS</text>
<text x="528.0" y="1865" font-size="57" text-anchor="start" fill="#000">i</text>
<rect x="722.5" y="1893.5" width="130.0" height="129.20000000000005" fill="#000"/>
<g clip-path="url(#tc1)">
<ellipse cx="779.5" cy="1956.5" rx="26.5" ry="22" fill="#1c3cf0" stroke="none" stroke-width="0" opacity="1" filter="url(#mb1)"/>
<ellipse cx="774.5" cy="1953.5" rx="10" ry="8" fill="#0a1a90" stroke="none" stroke-width="0" opacity="0.7" filter="url(#mb2)"/>
<ellipse cx="784.5" cy="1965.5" rx="8" ry="6" fill="#0a1a90" stroke="none" stroke-width="0" opacity="0.6" filter="url(#mb2)"/>
<ellipse cx="779.5" cy="1956.5" rx="26" ry="21.5" fill="none" stroke="#4a6cff" stroke-width="2.5" opacity="0.8" filter="url(#mb1)"/>
<ellipse cx="726.5" cy="1983.5" rx="14" ry="32" fill="#1a36d8" stroke="none" stroke-width="0" opacity="1" filter="url(#mb1)"/>
</g>
<rect x="857.5" y="1893.5" width="130.0" height="129.20000000000005" fill="#000"/>
<g clip-path="url(#tc2)">
<path d="M 882.0 1948.5 a 34 31.5 0 1 0 68 0 a 34 31.5 0 1 0 -68 0 Z M 887.0 1953.9 a 23 21.3 0 1 1 46 0 a 23 21.3 0 1 1 -46 0 Z" fill="#1fa01f" fill-rule="evenodd" filter="url(#mb1)"/>
<ellipse cx="910.0" cy="1953.9" rx="23.5" ry="21.8" fill="none" stroke="#40e040" stroke-width="3" opacity="0.9" filter="url(#mb1)"/>
<ellipse cx="910.0" cy="1953.9" rx="21" ry="19" fill="#062806" stroke="none" stroke-width="0" opacity="0.8" filter="url(#mb2)"/>
<path d="M 945.5 1965.5 Q 962.5 1977.5, 983.5 1988.5" fill="none" stroke="#1a901a" stroke-width="2.5" opacity="0.7" filter="url(#mb1)"/>
<ellipse cx="865.5" cy="1909.5" rx="3" ry="8" fill="#1c8a1c" stroke="none" stroke-width="0" opacity="0.8" filter="url(#mb1)"/>
</g>
<rect x="992.5" y="1893.5" width="129.5" height="129.20000000000005" fill="#000"/>
<g clip-path="url(#tc3)">
<path d="M 1016.5 1948.5 a 34 31.5 0 1 0 68 0 a 34 31.5 0 1 0 -68 0 Z M 1022.0 1953.5 a 23 21.5 0 1 1 46 0 a 23 21.5 0 1 1 -46 0 Z" fill="#a02aa8" fill-rule="evenodd" filter="url(#mb1)"/>
<ellipse cx="1045.0" cy="1953.5" rx="23.5" ry="22" fill="none" stroke="#d040d8" stroke-width="3" opacity="0.9" filter="url(#mb1)"/>
<path d="M 1080.5 1965.5 Q 1097.5 1977.5, 1118.5 1988.5" fill="none" stroke="#90289a" stroke-width="2.5" opacity="0.7" filter="url(#mb1)"/>
</g>
<rect x="1127.5" y="1893.5" width="129.5" height="129.20000000000005" fill="#000"/>
<g clip-path="url(#tc4)">
<path d="M 1152.0 1948.5 a 34 31.5 0 1 0 68 0 a 34 31.5 0 1 0 -68 0 Z M 1157.0 1953.9 a 23 21.3 0 1 1 46 0 a 23 21.3 0 1 1 -46 0 Z" fill="#88b070" fill-rule="evenodd" filter="url(#mb1)"/>
<ellipse cx="1180.0" cy="1953.9" rx="23.5" ry="21.8" fill="none" stroke="#d8e8c0" stroke-width="3" opacity="0.9" filter="url(#mb1)"/>
<ellipse cx="1180.0" cy="1953.9" rx="22" ry="20.5" fill="#1a34c8" stroke="none" stroke-width="0" opacity="1" filter="url(#mb1)"/>
<ellipse cx="1131.5" cy="1983.5" rx="14" ry="30" fill="#1a34c8" stroke="none" stroke-width="0" opacity="1" filter="url(#mb1)"/>
<path d="M 1215.5 1965.5 Q 1232.5 1977.5, 1253.5 1988.5" fill="none" stroke="#a03ab0" stroke-width="2.5" opacity="0.7" filter="url(#mb1)"/>
<line x1="1158.6" y1="1920.7" x2="1207.9" y2="1986.3" stroke="#fff" stroke-width="2.2"/>
<line x1="1235" y1="2013.5" x2="1254" y2="2013.5" stroke="#fff" stroke-width="1.6"/>
</g>
<rect x="722.5" y="2026.7" width="130.0" height="128.49999999999977" fill="#000"/>
<g clip-path="url(#tc5)">
<ellipse cx="796.6" cy="2034.6" rx="16" ry="11" fill="#1c36cc" stroke="none" stroke-width="0" opacity="1" filter="url(#mb1)"/>
<ellipse cx="832.3" cy="2043.0" rx="19" ry="17" fill="#1c36cc" stroke="none" stroke-width="0" opacity="1" filter="url(#mb1)"/>
<ellipse cx="788.0" cy="2070.3" rx="17" ry="20" fill="#1c36cc" stroke="none" stroke-width="0" opacity="1" filter="url(#mb1)"/>
<ellipse cx="771.0" cy="2111.0" rx="21" ry="15" fill="#1c36cc" stroke="none" stroke-width="0" opacity="1" filter="url(#mb1)"/>
<ellipse cx="796.6" cy="2136.5" rx="17" ry="15" fill="#1c36cc" stroke="none" stroke-width="0" opacity="1" filter="url(#mb1)"/>
<ellipse cx="844.0" cy="2129.7" rx="10" ry="17" fill="#1c36cc" stroke="none" stroke-width="0" opacity="1" filter="url(#mb1)"/>
<ellipse cx="722.5" cy="2070.0" rx="8" ry="18" fill="#1c36cc" stroke="none" stroke-width="0" opacity="1" filter="url(#mb1)"/>
</g>
<rect x="857.5" y="2026.7" width="130.0" height="128.49999999999977" fill="#000"/>
<g clip-path="url(#tc6)">
<ellipse cx="905.8" cy="2111.0" rx="21" ry="15.5" fill="#30d030" stroke="none" stroke-width="0" opacity="1" filter="url(#mb1)"/>
<ellipse cx="911.5" cy="2114.7" rx="3" ry="3" fill="#0a400a" stroke="none" stroke-width="0" opacity="1" filter="url(#mb1)"/>
<ellipse cx="966.5" cy="2041.7" rx="17" ry="15" fill="#0e6a0e" stroke="none" stroke-width="0" opacity="1" filter="url(#mb2)"/>
</g>
<rect x="992.5" y="2026.7" width="129.5" height="128.49999999999977" fill="#000"/>
<g clip-path="url(#tc7)">
<ellipse cx="1041.3" cy="2111.0" rx="20" ry="15" fill="#7a1ed8" stroke="none" stroke-width="0" opacity="1" filter="url(#mb1)"/>
<ellipse cx="1044.5" cy="2112.7" rx="4" ry="4" fill="#b040ff" stroke="none" stroke-width="0" opacity="1" filter="url(#mb1)"/>
<ellipse cx="1099.5" cy="2041.7" rx="16" ry="14" fill="#3a0c70" stroke="none" stroke-width="0" opacity="1" filter="url(#mb2)"/>
</g>
<rect x="1127.5" y="2026.7" width="129.5" height="128.49999999999977" fill="#000"/>
<g clip-path="url(#tc8)">
<ellipse cx="1206.6" cy="2034.6" rx="16" ry="11" fill="#1c36cc" stroke="none" stroke-width="0" opacity="1" filter="url(#mb1)"/>
<ellipse cx="1242.3" cy="2043.0" rx="19" ry="17" fill="#1c36cc" stroke="none" stroke-width="0" opacity="1" filter="url(#mb1)"/>
<ellipse cx="1198.0" cy="2070.3" rx="17" ry="20" fill="#1c36cc" stroke="none" stroke-width="0" opacity="1" filter="url(#mb1)"/>
<ellipse cx="1181.0" cy="2111.0" rx="21" ry="15" fill="#1c36cc" stroke="none" stroke-width="0" opacity="1" filter="url(#mb1)"/>
<ellipse cx="1206.6" cy="2136.5" rx="17" ry="15" fill="#1c36cc" stroke="none" stroke-width="0" opacity="1" filter="url(#mb1)"/>
<ellipse cx="1254.0" cy="2129.7" rx="10" ry="17" fill="#1c36cc" stroke="none" stroke-width="0" opacity="1" filter="url(#mb1)"/>
<ellipse cx="1132.5" cy="2070.0" rx="8" ry="18" fill="#1c36cc" stroke="none" stroke-width="0" opacity="1" filter="url(#mb1)"/>
<ellipse cx="1236.5" cy="2041.7" rx="17" ry="15" fill="#2a7ab0" stroke="none" stroke-width="0" opacity="1" filter="url(#mb2)"/>
<ellipse cx="1174.5" cy="2111.0" rx="21" ry="15.5" fill="#40c8b8" stroke="none" stroke-width="0" opacity="1" filter="url(#mb1)"/>
<ellipse cx="1179.5" cy="2112.7" rx="4" ry="4" fill="#6a40c0" stroke="none" stroke-width="0" opacity="1" filter="url(#mb1)"/>
<line x1="1144" y1="2096.4" x2="1208.6" y2="2107.7" stroke="#fff" stroke-width="2.2"/>
<line x1="1240" y1="2145" x2="1254" y2="2145" stroke="#fff" stroke-width="1.6"/>
</g>
<rect x="722.5" y="2242.5" width="130.0" height="128.0" fill="#000"/>
<g clip-path="url(#tc9)">
<path d="M 726.2 2255.5 C 731.2 2250.2, 745.7 2256.1, 752.9 2258.9 C 760.1 2261.7, 764.5 2268.0, 769.5 2272.2 C 774.5 2276.4, 778.2 2281.8, 782.9 2283.9 C 787.6 2286.0, 791.8 2284.1, 797.9 2284.7 C 804.0 2285.2, 814.2 2284.3, 819.5 2287.2 C 824.8 2290.1, 827.2 2296.9, 829.5 2302.2 C 831.8 2307.5, 829.4 2313.6, 833.0 2318.9 C 836.6 2324.2, 849.1 2330.3, 851.3 2333.9 C 853.5 2337.5, 848.8 2338.9, 846.3 2340.6 C 843.8 2342.3, 840.8 2342.8, 836.3 2343.9 C 831.8 2345.0, 826.5 2347.3, 819.5 2347.3 C 812.5 2347.3, 802.8 2345.6, 794.5 2343.9 C 786.2 2342.2, 775.9 2340.4, 769.5 2337.3 C 763.1 2334.2, 761.2 2328.6, 756.2 2325.5 C 751.2 2322.4, 744.5 2319.7, 739.5 2318.9 C 734.5 2318.1, 729.0 2325.2, 726.2 2320.5 C 723.4 2315.8, 722.8 2301.3, 722.8 2290.5 C 722.8 2279.7, 721.2 2260.8, 726.2 2255.5 Z" fill="#a81212" opacity="0.68" filter="url(#mb2)"/>
<ellipse cx="748.7" cy="2290.5" rx="21" ry="15.5" fill="#000" stroke="none" stroke-width="0" opacity="1" filter="url(#mb2)"/>
<ellipse cx="809.6" cy="2304.7" rx="17.5" ry="17.5" fill="#000" stroke="none" stroke-width="0" opacity="1" filter="url(#mb2)"/>
<ellipse cx="779.5" cy="2320.5" rx="22.5" ry="16" fill="#000" stroke="none" stroke-width="0" opacity="1" filter="url(#mb2)"/>
<ellipse cx="740.5" cy="2264.5" rx="12" ry="8" fill="#c02020" stroke="none" stroke-width="0" opacity="0.6" filter="url(#mb4)"/>
<ellipse cx="837.5" cy="2330.5" rx="12" ry="8" fill="#d02020" stroke="none" stroke-width="0" opacity="0.7" filter="url(#mb4)"/>
</g>
<rect x="857.5" y="2242.5" width="130.0" height="128.0" fill="#000"/>
<g clip-path="url(#tc10)">
<path d="M 865.5 2248.5 C 877.5 2260.5, 895.5 2270.5, 912.5 2282.5 C 919.5 2288.5, 923.5 2292.5, 925.5 2298.5" fill="none" stroke="#1c9c1c" stroke-width="9" opacity="0.55" filter="url(#mb2)"/>
<ellipse cx="941.3" cy="2305.5" rx="22" ry="19.5" fill="none" stroke="#24b424" stroke-width="3" opacity="0.9" filter="url(#mb1)"/>
<path d="M 921.5 2290.5 C 919.5 2302.5, 923.5 2312.5, 929.5 2318.5" fill="none" stroke="#30c830" stroke-width="6" opacity="0.9" filter="url(#mb1)"/>
<path d="M 952.5 2320.5 C 954.3 2319.8, 961.3 2324.8, 965.5 2326.5 C 969.7 2328.2, 974.0 2329.2, 977.5 2330.5 C 981.0 2331.8, 985.5 2332.5, 986.5 2334.5 C 987.5 2336.5, 985.8 2340.5, 983.5 2342.5 C 981.2 2344.5, 976.2 2347.2, 972.5 2346.5 C 968.8 2345.8, 964.5 2341.2, 961.5 2338.5 C 958.5 2335.8, 956.0 2333.5, 954.5 2330.5 C 953.0 2327.5, 950.7 2321.2, 952.5 2320.5 Z" fill="#22b422" opacity="0.9" filter="url(#mb1)"/>
</g>
<rect x="992.5" y="2242.5" width="129.5" height="128.0" fill="#000"/>
<g clip-path="url(#tc11)">
<path d="M 1000.5 2256.5 C 1012.5 2262.5, 1030.5 2270.5, 1044.5 2282.5 C 1052.5 2288.5, 1056.5 2292.5, 1058.5 2298.5" fill="none" stroke="#4a1aa8" stroke-width="12" opacity="0.75" filter="url(#mb2)"/>
<ellipse cx="1077.5" cy="2304.5" rx="21" ry="19.5" fill="none" stroke="#5a22c8" stroke-width="3" opacity="0.8" filter="url(#mb1)"/>
<path d="M 1054.5 2290.5 C 1052.5 2302.5, 1056.5 2312.5, 1064.5 2318.5" fill="none" stroke="#6a28e0" stroke-width="6" opacity="0.8" filter="url(#mb1)"/>
<path d="M 1087.5 2320.5 C 1089.3 2319.8, 1096.3 2324.8, 1100.5 2326.5 C 1104.7 2328.2, 1109.0 2329.2, 1112.5 2330.5 C 1116.0 2331.8, 1120.5 2332.5, 1121.5 2334.5 C 1122.5 2336.5, 1120.8 2340.5, 1118.5 2342.5 C 1116.2 2344.5, 1111.2 2347.2, 1107.5 2346.5 C 1103.8 2345.8, 1099.5 2341.2, 1096.5 2338.5 C 1093.5 2335.8, 1091.0 2333.5, 1089.5 2330.5 C 1088.0 2327.5, 1085.7 2321.2, 1087.5 2320.5 Z" fill="#5a20c8" opacity="0.85" filter="url(#mb1)"/>
</g>
<rect x="1127.5" y="2242.5" width="129.5" height="128.0" fill="#000"/>
<g clip-path="url(#tc12)">
<path d="M 1131.2 2255.5 C 1136.2 2250.2, 1150.7 2256.1, 1157.9 2258.9 C 1165.1 2261.7, 1169.5 2268.0, 1174.5 2272.2 C 1179.5 2276.4, 1183.2 2281.8, 1187.9 2283.9 C 1192.6 2286.0, 1196.8 2284.1, 1202.9 2284.7 C 1209.0 2285.2, 1219.2 2284.3, 1224.5 2287.2 C 1229.8 2290.1, 1232.2 2296.9, 1234.5 2302.2 C 1236.8 2307.5, 1234.4 2313.6, 1238.0 2318.9 C 1241.6 2324.2, 1254.1 2330.3, 1256.3 2333.9 C 1258.5 2337.5, 1253.8 2338.9, 1251.3 2340.6 C 1248.8 2342.3, 1245.8 2342.8, 1241.3 2343.9 C 1236.8 2345.0, 1231.5 2347.3, 1224.5 2347.3 C 1217.5 2347.3, 1207.8 2345.6, 1199.5 2343.9 C 1191.2 2342.2, 1180.9 2340.4, 1174.5 2337.3 C 1168.1 2334.2, 1166.2 2328.6, 1161.2 2325.5 C 1156.2 2322.4, 1149.5 2319.7, 1144.5 2318.9 C 1139.5 2318.1, 1134.0 2325.2, 1131.2 2320.5 C 1128.4 2315.8, 1127.8 2301.3, 1127.8 2290.5 C 1127.8 2279.7, 1126.2 2260.8, 1131.2 2255.5 Z" fill="#b81818" opacity="0.85" filter="url(#mb2)"/>
<ellipse cx="1155.0" cy="2288.9" rx="21" ry="15.5" fill="#0a0000" stroke="none" stroke-width="0" opacity="1" filter="url(#mb2)"/>
<ellipse cx="1215.1" cy="2305.5" rx="19" ry="19" fill="#140a28" stroke="none" stroke-width="0" opacity="1" filter="url(#mb2)"/>
<ellipse cx="1183.4" cy="2318.9" rx="21" ry="16" fill="#0a0000" stroke="none" stroke-width="0" opacity="1" filter="url(#mb2)"/>
<path d="M 1135.5 2248.5 C 1147.5 2260.5, 1165.5 2270.5, 1182.5 2282.5 C 1189.5 2288.5, 1193.5 2292.5, 1195.5 2298.5" fill="none" stroke="#e0b0a8" stroke-width="10" opacity="0.6" filter="url(#mb2)"/>
<ellipse cx="1215.1" cy="2305.5" rx="21" ry="20" fill="none" stroke="#e8d8b0" stroke-width="2.5" opacity="0.8" filter="url(#mb1)"/>
<path d="M 1222.5 2320.5 C 1224.3 2319.8, 1231.3 2324.8, 1235.5 2326.5 C 1239.7 2328.2, 1244.0 2329.2, 1247.5 2330.5 C 1251.0 2331.8, 1255.5 2332.5, 1256.5 2334.5 C 1257.5 2336.5, 1255.8 2340.5, 1253.5 2342.5 C 1251.2 2344.5, 1246.2 2347.2, 1242.5 2346.5 C 1238.8 2345.8, 1234.5 2341.2, 1231.5 2338.5 C 1228.5 2335.8, 1226.0 2333.5, 1224.5 2330.5 C 1223.0 2327.5, 1220.7 2321.2, 1222.5 2320.5 Z" fill="#e8e0a0" opacity="0.8" filter="url(#mb1)"/>
<line x1="1199.5" y1="2285.5" x2="1196.0" y2="2309.5" stroke="#fff" stroke-width="2.2"/>
<line x1="1239.5" y1="2360.5" x2="1251.5" y2="2360.5" stroke="#fff" stroke-width="1.6"/>
</g>
<rect x="722.5" y="2374" width="130.0" height="129.5" fill="#000"/>
<g clip-path="url(#tc13)">
<ellipse cx="754.5" cy="2443.0" rx="14" ry="17" fill="none" stroke="#e01818" stroke-width="3.5" opacity="0.85" filter="url(#mb1)" transform="rotate(-15 754.5 2443)"/>
<ellipse cx="822.5" cy="2427.0" rx="13" ry="20" fill="none" stroke="#e01818" stroke-width="4.5" opacity="1" filter="url(#mb1)" transform="rotate(-12 822.5 2427)"/>
<ellipse cx="754.5" cy="2443.0" rx="12" ry="15" fill="#300000" stroke="none" stroke-width="0" opacity="0.8" filter="url(#mb2)" transform="rotate(-15 754.5 2443)"/>
</g>
<rect x="857.5" y="2374" width="130.0" height="129.5" fill="#000"/>
<g clip-path="url(#tc14)">
<ellipse cx="889.5" cy="2443.0" rx="14" ry="17" fill="none" stroke="#28c828" stroke-width="3.5" opacity="0.85" filter="url(#mb1)" transform="rotate(-15 889.5 2443)"/>
<ellipse cx="957.5" cy="2427.0" rx="13" ry="20" fill="none" stroke="#28c828" stroke-width="4.5" opacity="1" filter="url(#mb1)" transform="rotate(-12 957.5 2427)"/>
</g>
<rect x="992.5" y="2374" width="129.5" height="129.5" fill="#000"/>
<g clip-path="url(#tc15)">
<ellipse cx="1024.5" cy="2443.0" rx="14" ry="17" fill="none" stroke="#c030c8" stroke-width="3.5" opacity="0.85" filter="url(#mb1)" transform="rotate(-15 1024.5 2443)"/>
<ellipse cx="1092.5" cy="2427.0" rx="13" ry="20" fill="none" stroke="#c030c8" stroke-width="4.5" opacity="1" filter="url(#mb1)" transform="rotate(-12 1092.5 2427)"/>
</g>
<rect x="1127.5" y="2374" width="129.5" height="129.5" fill="#000"/>
<g clip-path="url(#tc16)">
<ellipse cx="1159.5" cy="2443.0" rx="14" ry="17" fill="none" stroke="#d8b8d0" stroke-width="3.5" opacity="0.85" filter="url(#mb1)" transform="rotate(-15 1159.5 2443)"/>
<ellipse cx="1227.5" cy="2427.0" rx="13" ry="20" fill="none" stroke="#d8b8d0" stroke-width="4.5" opacity="1" filter="url(#mb1)" transform="rotate(-12 1227.5 2427)"/>
<ellipse cx="1229.5" cy="2431.0" rx="11" ry="16" fill="none" stroke="#90d070" stroke-width="3" opacity="0.8" filter="url(#mb1)" transform="rotate(-12 1229.5 2431)"/>
<line x1="1208.5" y1="2431" x2="1237.5" y2="2410" stroke="#fff" stroke-width="2.2"/>
<line x1="1242.5" y1="2496" x2="1250.5" y2="2496" stroke="#fff" stroke-width="1.6"/>
</g>
<rect x="722.5" y="2567" width="130.0" height="129.80000000000018" fill="#000"/>
<g clip-path="url(#tc17)">
<ellipse cx="786.2" cy="2590.0" rx="27" ry="21" fill="none" stroke="#6a0808" stroke-width="8" opacity="0.9" filter="url(#mb2)"/>
<ellipse cx="836.5" cy="2611.0" rx="17" ry="26" fill="none" stroke="#6a0808" stroke-width="9" opacity="0.9" filter="url(#mb2)"/>
<ellipse cx="724.5" cy="2581.0" rx="6" ry="13" fill="#6a0808" stroke="none" stroke-width="0" opacity="1" filter="url(#mb2)"/>
<ellipse cx="792.5" cy="2679.0" rx="22" ry="20" fill="none" stroke="#7a0a0a" stroke-width="9" opacity="0.9" filter="url(#mb2)"/>
<path d="M 757.9 2616.7 C 758.7 2612.8, 760.9 2610.1, 764.5 2608.4 C 768.1 2606.7, 774.5 2606.1, 779.5 2606.7 C 784.5 2607.2, 790.9 2608.6, 794.5 2611.7 C 798.1 2614.8, 799.1 2620.3, 801.3 2625.0 C 803.5 2629.7, 805.4 2635.0, 807.9 2640.0 C 810.4 2645.0, 814.1 2650.6, 816.3 2655.1 C 818.5 2659.6, 821.9 2665.1, 821.3 2666.8 C 820.7 2668.5, 816.5 2667.1, 812.9 2665.1 C 809.3 2663.1, 804.8 2658.4, 799.5 2655.1 C 794.2 2651.8, 786.5 2647.6, 781.2 2645.1 C 775.9 2642.6, 771.5 2642.2, 767.9 2640.0 C 764.3 2637.8, 761.2 2635.6, 759.5 2631.7 C 757.8 2627.8, 757.1 2620.6, 757.9 2616.7 Z" fill="#c41c1c" opacity="0.9" filter="url(#mb2)"/>
<ellipse cx="779.5" cy="2621.7" rx="11" ry="12.5" fill="#100000" stroke="none" stroke-width="0" opacity="1" filter="url(#mb2)"/>
<ellipse cx="734.5" cy="2683.0" rx="15" ry="13" fill="none" stroke="#d02020" stroke-width="7" opacity="0.9" filter="url(#mb2)"/>
<ellipse cx="846.5" cy="2683.0" rx="10" ry="13" fill="#c01818" stroke="none" stroke-width="0" opacity="0.9" filter="url(#mb2)"/>
</g>
<rect x="857.5" y="2567" width="130.0" height="129.80000000000018" fill="#000"/>
<g clip-path="url(#tc18)">
<path d="M 889.5 2616.7 C 890.7 2613.4, 895.0 2610.2, 899.5 2608.4 C 904.0 2606.6, 910.9 2605.4, 916.2 2605.9 C 921.5 2606.4, 927.5 2607.9, 931.1 2611.7 C 934.7 2615.4, 936.2 2622.8, 937.9 2628.4 C 939.6 2634.0, 939.4 2639.7, 941.3 2645.0 C 943.2 2650.3, 946.5 2654.4, 949.5 2660.0 C 952.5 2665.6, 958.9 2675.7, 959.5 2678.5 C 960.1 2681.3, 956.2 2679.1, 952.9 2676.8 C 949.6 2674.6, 945.1 2668.9, 939.5 2665.0 C 933.9 2661.1, 925.6 2657.3, 919.5 2653.4 C 913.4 2649.5, 907.4 2646.0, 902.9 2641.8 C 898.4 2637.6, 894.7 2632.6, 892.5 2628.4 C 890.3 2624.2, 888.3 2620.0, 889.5 2616.7 Z" fill="#24a824" opacity="0.9" filter="url(#mb2)"/>
<ellipse cx="914.5" cy="2621.7" rx="12" ry="14" fill="#041004" stroke="none" stroke-width="0" opacity="1" filter="url(#mb2)"/>
<ellipse cx="869.5" cy="2683.0" rx="15" ry="13" fill="none" stroke="#28b428" stroke-width="7" opacity="1" filter="url(#mb2)"/>
<ellipse cx="981.5" cy="2684.0" rx="9" ry="12" fill="#1e9a1e" stroke="none" stroke-width="0" opacity="1" filter="url(#mb2)"/>
</g>
<rect x="992.5" y="2567" width="129.5" height="129.80000000000018" fill="#000"/>
<g clip-path="url(#tc19)">
<path d="M 1024.5 2616.7 C 1025.7 2613.4, 1030.0 2610.2, 1034.5 2608.4 C 1039.0 2606.6, 1045.9 2605.4, 1051.2 2605.9 C 1056.5 2606.4, 1062.5 2607.9, 1066.1 2611.7 C 1069.7 2615.4, 1071.2 2622.8, 1072.9 2628.4 C 1074.6 2634.0, 1074.4 2639.7, 1076.3 2645.0 C 1078.2 2650.3, 1081.5 2654.4, 1084.5 2660.0 C 1087.5 2665.6, 1093.9 2675.7, 1094.5 2678.5 C 1095.1 2681.3, 1091.2 2679.1, 1087.9 2676.8 C 1084.6 2674.6, 1080.1 2668.9, 1074.5 2665.0 C 1068.9 2661.1, 1060.6 2657.3, 1054.5 2653.4 C 1048.4 2649.5, 1042.4 2646.0, 1037.9 2641.8 C 1033.4 2637.6, 1029.7 2632.6, 1027.5 2628.4 C 1025.3 2624.2, 1023.3 2620.0, 1024.5 2616.7 Z" fill="#5a1ec0" opacity="0.9" filter="url(#mb2)"/>
<ellipse cx="1049.5" cy="2621.7" rx="12" ry="14" fill="#1a0838" stroke="none" stroke-width="0" opacity="0.8" filter="url(#mb2)"/>
<ellipse cx="1002.5" cy="2682.0" rx="15" ry="13" fill="#5a20c0" stroke="none" stroke-width="0" opacity="1" filter="url(#mb2)"/>
<ellipse cx="1116.5" cy="2684.0" rx="9" ry="12" fill="#4a1aa0" stroke="none" stroke-width="0" opacity="1" filter="url(#mb2)"/>
</g>
<rect x="1127.5" y="2567" width="129.5" height="129.80000000000018" fill="#000"/>
<g clip-path="url(#tc20)">
<ellipse cx="1191.2" cy="2590.0" rx="27" ry="21" fill="none" stroke="#700a0a" stroke-width="8" opacity="0.9" filter="url(#mb2)"/>
<ellipse cx="1241.5" cy="2611.0" rx="17" ry="26" fill="none" stroke="#700a0a" stroke-width="9" opacity="0.9" filter="url(#mb2)"/>
<ellipse cx="1197.5" cy="2679.0" rx="22" ry="20" fill="none" stroke="#8a0c0c" stroke-width="9" opacity="0.9" filter="url(#mb2)"/>
<path d="M 1162.9 2616.7 C 1163.7 2612.8, 1165.9 2610.1, 1169.5 2608.4 C 1173.1 2606.7, 1179.5 2606.1, 1184.5 2606.7 C 1189.5 2607.2, 1195.9 2608.6, 1199.5 2611.7 C 1203.1 2614.8, 1204.1 2620.3, 1206.3 2625.0 C 1208.5 2629.7, 1210.4 2635.0, 1212.9 2640.0 C 1215.4 2645.0, 1219.1 2650.6, 1221.3 2655.1 C 1223.5 2659.6, 1226.9 2665.1, 1226.3 2666.8 C 1225.7 2668.5, 1221.5 2667.1, 1217.9 2665.1 C 1214.3 2663.1, 1209.8 2658.4, 1204.5 2655.1 C 1199.2 2651.8, 1191.5 2647.6, 1186.2 2645.1 C 1180.9 2642.6, 1176.5 2642.2, 1172.9 2640.0 C 1169.3 2637.8, 1166.2 2635.6, 1164.5 2631.7 C 1162.8 2627.8, 1162.1 2620.6, 1162.9 2616.7 Z" fill="#e2b4c2" opacity="0.9" filter="url(#mb2)"/>
<ellipse cx="1184.5" cy="2621.7" rx="11" ry="12.5" fill="#4a2070" stroke="none" stroke-width="0" opacity="1" filter="url(#mb2)"/>
<ellipse cx="1137.5" cy="2682.0" rx="15" ry="13" fill="#d0c080" stroke="none" stroke-width="0" opacity="1" filter="url(#mb2)"/>
<ellipse cx="1251.5" cy="2683.0" rx="10" ry="13" fill="#d0a0a8" stroke="none" stroke-width="0" opacity="1" filter="url(#mb2)"/>
<line x1="1167.5" y1="2640" x2="1224.5" y2="2656" stroke="#fff" stroke-width="2.2"/>
<line x1="1236.5" y1="2684" x2="1248.5" y2="2684" stroke="#fff" stroke-width="1.6"/>
</g>
<text x="786.5" y="1882" font-size="31" text-anchor="middle" fill="#000">DAPI</text>
<text x="920.5" y="1882" font-size="31" text-anchor="middle" fill="#000">V5</text>
<text x="1058.5" y="1882" font-size="31" text-anchor="middle" fill="#000">Biotin</text>
<text x="1196" y="1882" font-size="31" text-anchor="middle" fill="#000">Merge</text>
<text x="789" y="2209.4" font-size="31" text-anchor="middle" fill="#000">Citrate</text>
<text x="788.5" y="2236" font-size="31" text-anchor="middle" fill="#000">synthase</text>
<text x="926.5" y="2236" font-size="31" text-anchor="middle" fill="#000">V5</text>
<text x="1061.7" y="2236" font-size="31" text-anchor="middle" fill="#000">Biotin</text>
<text x="1197" y="2236" font-size="31" text-anchor="middle" fill="#000">Merge</text>
<text x="787.5" y="2557" font-size="31" text-anchor="middle" fill="#000">Calnexin</text>
<text x="930.5" y="2557" font-size="31" text-anchor="middle" fill="#000">V5</text>
<text x="1064.5" y="2557" font-size="31" text-anchor="middle" fill="#000">Biotin</text>
<text x="1199.5" y="2557" font-size="31" text-anchor="middle" fill="#000">Merge</text>
<text x="690.5" y="1969" font-size="31" text-anchor="end" fill="#000">Untargeted</text>
<text x="690.5" y="2100" font-size="31" text-anchor="end" fill="#000">Nucleus</text>
<text x="690.5" y="2315.8" font-size="31" text-anchor="end" fill="#000">OMM</text>
<text x="691.2" y="2450.8" font-size="31" text-anchor="end" fill="#000">Mito matrix</text>
<text x="690.2" y="2638.8" font-size="31" text-anchor="end" fill="#000">ERM</text>
<line x1="1348.4" y1="1893.5" x2="1348.4" y2="2002.6" stroke="#000" stroke-width="2.2"/>
<line x1="1347.3" y1="2001.6" x2="1616" y2="2001.6" stroke="#000" stroke-width="2.2"/>
<text x="1344.3" y="1911.5" font-size="27" text-anchor="end" fill="#000">1</text>
<text x="1345.3" y="2001.6" font-size="27" text-anchor="end" fill="#000">0</text>
<text x="1619.6" y="2002.6" font-size="27" text-anchor="start" fill="#000">20</text>
<path d="M 1348.4 1986.0 C 1350.8 1986.0, 1362.6 1987.4, 1366.1 1986.0 C 1369.6 1984.6, 1372.0 1983.3, 1374.5 1975.5 C 1377.0 1967.7, 1381.9 1932.8, 1385.0 1927.2 C 1388.1 1921.6, 1395.1 1931.0, 1397.6 1933.5 C 1400.1 1936.0, 1401.9 1940.8, 1403.9 1946.1 C 1405.9 1951.4, 1409.5 1968.6, 1412.3 1973.4 C 1415.1 1978.2, 1419.9 1980.4, 1424.9 1981.8 C 1430.0 1983.2, 1443.4 1984.2, 1450.1 1983.9 C 1456.9 1983.6, 1468.6 1980.0, 1475.4 1979.7 C 1482.1 1979.4, 1495.0 1982.9, 1500.6 1981.8 C 1506.2 1980.7, 1514.0 1976.6, 1517.4 1971.3 C 1520.7 1966.0, 1523.7 1950.3, 1525.8 1941.9 C 1527.9 1933.5, 1531.4 1908.8, 1533.4 1908.3 C 1535.3 1907.7, 1538.4 1928.2, 1540.5 1937.7 C 1542.6 1947.2, 1546.9 1973.8, 1548.9 1979.7 C 1550.9 1985.6, 1553.7 1981.9, 1555.2 1981.8 C 1556.7 1981.7, 1558.8 1978.1, 1560.2 1978.9 C 1561.6 1979.6, 1564.1 1985.8, 1565.7 1987.3 C 1567.3 1988.8, 1569.5 1989.8, 1572.0 1990.2 C 1574.5 1990.6, 1582.9 1990.2, 1584.6 1990.2 " fill="none" stroke="#7a1fa0" stroke-width="2.4" stroke-linejoin="round"/>
<path d="M 1348.4 1993.2 C 1350.8 1993.0, 1362.6 1993.5, 1366.1 1992.3 C 1369.6 1991.1, 1372.2 1990.1, 1374.5 1983.9 C 1376.7 1977.7, 1380.7 1955.0, 1382.9 1946.1 C 1385.1 1937.1, 1389.2 1921.4, 1391.3 1916.7 C 1393.4 1911.9, 1397.5 1913.2, 1398.9 1910.4 C 1400.3 1907.6, 1400.9 1894.8, 1401.8 1895.6 C 1402.8 1896.5, 1404.6 1908.8, 1406.0 1916.7 C 1407.4 1924.5, 1410.6 1947.2, 1412.3 1954.5 C 1414.0 1961.8, 1415.8 1968.2, 1418.6 1971.3 C 1421.4 1974.4, 1428.0 1977.6, 1433.3 1977.6 C 1438.6 1977.6, 1452.9 1971.0, 1458.5 1971.3 C 1464.1 1971.6, 1470.9 1978.9, 1475.4 1979.7 C 1479.8 1980.5, 1487.7 1978.4, 1492.2 1977.6 C 1496.6 1976.8, 1505.1 1975.4, 1509.0 1973.4 C 1512.9 1971.4, 1518.8 1968.8, 1521.6 1962.9 C 1524.4 1957.0, 1528.3 1935.7, 1530.0 1929.3 C 1531.7 1922.8, 1533.0 1912.9, 1534.2 1914.6 C 1535.4 1916.2, 1537.6 1932.4, 1539.2 1941.9 C 1540.9 1951.4, 1544.1 1979.2, 1546.8 1986.0 C 1549.5 1992.8, 1554.4 1992.2, 1559.4 1993.2 C 1564.5 1994.1, 1581.3 1993.2, 1584.6 1993.2 " fill="none" stroke="#1f8a2a" stroke-width="2.4" stroke-linejoin="round"/>
<line x1="1348.4" y1="2026" x2="1348.4" y2="2134" stroke="#000" stroke-width="2.2"/>
<line x1="1347.3" y1="2133" x2="1616" y2="2133" stroke="#000" stroke-width="2.2"/>
<text x="1344.3" y="2044" font-size="27" text-anchor="end" fill="#000">1</text>
<text x="1345.3" y="2133" font-size="27" text-anchor="end" fill="#000">0</text>
<text x="1619.6" y="2134" font-size="27" text-anchor="start" fill="#000">20</text>
<path d="M 1348.4 2128.9 C 1349.7 2128.3, 1355.3 2127.8, 1357.7 2124.7 C 1360.0 2121.6, 1363.8 2110.0, 1366.1 2105.8 C 1368.3 2101.6, 1372.5 2095.4, 1374.5 2093.2 C 1376.4 2090.9, 1379.4 2091.8, 1380.8 2089.0 C 1382.2 2086.2, 1383.6 2076.6, 1385.0 2072.2 C 1386.4 2067.7, 1389.3 2057.3, 1391.3 2055.4 C 1393.3 2053.4, 1397.5 2056.6, 1399.7 2057.5 C 1401.9 2058.3, 1405.9 2062.2, 1408.1 2061.7 C 1410.4 2061.1, 1414.3 2053.0, 1416.5 2053.3 C 1418.8 2053.5, 1423.0 2060.7, 1424.9 2063.8 C 1426.9 2066.8, 1429.5 2077.2, 1431.2 2076.4 C 1432.9 2075.5, 1435.6 2061.7, 1437.5 2057.5 C 1439.5 2053.3, 1443.7 2047.6, 1445.9 2044.8 C 1448.2 2042.0, 1452.1 2037.8, 1454.3 2036.4 C 1456.6 2035.0, 1460.5 2033.5, 1462.7 2034.3 C 1465.0 2035.2, 1468.9 2042.2, 1471.2 2042.7 C 1473.4 2043.3, 1476.8 2038.8, 1479.6 2038.5 C 1482.4 2038.3, 1488.8 2039.8, 1492.2 2040.6 C 1495.5 2041.5, 1501.4 2043.4, 1504.8 2044.8 C 1508.1 2046.2, 1514.6 2050.6, 1517.4 2051.2 C 1520.2 2051.7, 1523.5 2046.2, 1525.8 2049.0 C 1528.0 2051.9, 1532.2 2066.3, 1534.2 2072.2 C 1536.2 2078.0, 1538.8 2088.1, 1540.5 2093.2 C 1542.2 2098.2, 1544.3 2107.2, 1546.8 2110.0 C 1549.3 2112.8, 1556.0 2113.6, 1559.4 2114.2 C 1562.8 2114.8, 1570.3 2114.2, 1572.0 2114.2 " fill="none" stroke="#7a1fa0" stroke-width="2.4" stroke-linejoin="round"/>
<path d="M 1348.4 2131.0 C 1349.7 2130.4, 1355.3 2130.7, 1357.7 2126.8 C 1360.0 2122.9, 1363.8 2108.3, 1366.1 2101.6 C 1368.3 2094.9, 1372.2 2080.9, 1374.5 2076.4 C 1376.7 2071.9, 1380.7 2072.4, 1382.9 2068.0 C 1385.1 2063.5, 1388.8 2046.4, 1391.3 2042.7 C 1393.8 2039.1, 1399.6 2039.5, 1401.8 2040.6 C 1404.0 2041.8, 1406.1 2050.6, 1408.1 2051.2 C 1410.1 2051.7, 1414.3 2043.7, 1416.5 2044.8 C 1418.8 2046.0, 1422.7 2055.9, 1424.9 2059.6 C 1427.2 2063.2, 1431.1 2073.8, 1433.3 2072.2 C 1435.6 2070.5, 1439.2 2051.4, 1441.7 2046.9 C 1444.3 2042.5, 1449.4 2039.7, 1452.2 2038.5 C 1455.0 2037.4, 1459.9 2037.4, 1462.7 2038.5 C 1465.5 2039.7, 1470.5 2046.7, 1473.3 2046.9 C 1476.1 2047.2, 1480.7 2040.6, 1483.8 2040.6 C 1486.8 2040.6, 1493.0 2045.8, 1496.4 2046.9 C 1499.7 2048.1, 1505.6 2048.8, 1509.0 2049.0 C 1512.3 2049.3, 1518.8 2046.5, 1521.6 2049.0 C 1524.4 2051.6, 1527.7 2062.6, 1530.0 2068.0 C 1532.2 2073.3, 1536.2 2083.4, 1538.4 2089.0 C 1540.6 2094.6, 1544.0 2106.6, 1546.8 2110.0 C 1549.6 2113.4, 1556.0 2113.4, 1559.4 2114.2 C 1562.8 2115.0, 1570.3 2116.0, 1572.0 2116.3 " fill="none" stroke="#1f8a2a" stroke-width="2.4" stroke-linejoin="round"/>
<line x1="1348.4" y1="2242.6" x2="1348.4" y2="2351.6" stroke="#000" stroke-width="2.2"/>
<line x1="1347.3" y1="2350.6" x2="1616" y2="2350.6" stroke="#000" stroke-width="2.2"/>
<text x="1344.3" y="2260.6" font-size="27" text-anchor="end" fill="#000">1</text>
<text x="1345.3" y="2350.6" font-size="27" text-anchor="end" fill="#000">0</text>
<text x="1619.6" y="2351.6" font-size="27" text-anchor="start" fill="#000">10</text>
<path d="M 1348.4 2320.4 C 1350.8 2317.3, 1361.5 2303.1, 1366.1 2297.2 C 1370.7 2291.4, 1379.5 2279.6, 1382.9 2276.2 C 1386.3 2272.9, 1389.1 2272.6, 1391.3 2272.0 C 1393.5 2271.5, 1397.5 2273.1, 1399.7 2272.0 C 1401.9 2270.9, 1405.9 2263.6, 1408.1 2263.6 C 1410.4 2263.6, 1414.3 2269.2, 1416.5 2272.0 C 1418.8 2274.8, 1421.6 2281.9, 1424.9 2284.6 C 1428.3 2287.3, 1437.2 2290.8, 1441.7 2292.2 C 1446.2 2293.6, 1454.1 2294.5, 1458.5 2295.1 C 1463.0 2295.8, 1470.9 2297.5, 1475.4 2297.2 C 1479.8 2297.0, 1487.7 2294.2, 1492.2 2293.0 C 1496.6 2291.9, 1504.5 2290.1, 1509.0 2288.8 C 1513.5 2287.6, 1521.9 2284.6, 1525.8 2283.8 C 1529.7 2283.0, 1535.0 2284.1, 1538.4 2282.5 C 1541.8 2281.0, 1548.2 2274.5, 1551.0 2272.0 C 1553.8 2269.5, 1556.6 2264.2, 1559.4 2263.6 C 1562.2 2263.1, 1568.7 2265.0, 1572.0 2267.8 C 1575.4 2270.6, 1581.8 2280.2, 1584.6 2284.6 C 1587.4 2289.1, 1590.8 2297.5, 1593.0 2301.4 C 1595.3 2305.4, 1600.3 2312.4, 1601.4 2314.1 " fill="none" stroke="#7a1fa0" stroke-width="2.4" stroke-linejoin="round"/>
<path d="M 1348.4 2339.3 C 1350.2 2335.9, 1357.8 2321.3, 1361.9 2314.1 C 1365.9 2306.8, 1375.0 2291.4, 1378.7 2284.6 C 1382.3 2277.9, 1387.0 2266.4, 1389.2 2263.6 C 1391.4 2260.8, 1393.8 2263.9, 1395.5 2263.6 C 1397.2 2263.3, 1400.1 2263.2, 1401.8 2261.5 C 1403.5 2259.8, 1406.7 2252.1, 1408.1 2251.0 C 1409.5 2249.9, 1410.6 2249.8, 1412.3 2253.1 C 1414.0 2256.5, 1418.5 2269.5, 1420.7 2276.2 C 1423.0 2283.0, 1426.3 2299.1, 1429.1 2303.5 C 1431.9 2308.0, 1437.8 2308.5, 1441.7 2309.9 C 1445.7 2311.3, 1454.1 2313.2, 1458.5 2314.1 C 1463.0 2314.9, 1470.9 2316.7, 1475.4 2316.2 C 1479.8 2315.6, 1487.7 2312.1, 1492.2 2309.9 C 1496.6 2307.6, 1505.1 2301.9, 1509.0 2299.3 C 1512.9 2296.8, 1518.2 2291.2, 1521.6 2290.9 C 1524.9 2290.7, 1531.4 2296.1, 1534.2 2297.2 C 1537.0 2298.4, 1540.4 2301.6, 1542.6 2299.3 C 1544.8 2297.1, 1548.8 2286.3, 1551.0 2280.4 C 1553.2 2274.5, 1557.7 2260.0, 1559.4 2255.2 C 1561.1 2250.5, 1562.5 2245.6, 1563.6 2244.7 C 1564.7 2243.9, 1566.1 2244.7, 1567.8 2248.9 C 1569.5 2253.1, 1573.4 2268.7, 1576.2 2276.2 C 1579.0 2283.8, 1585.5 2298.4, 1588.8 2305.6 C 1592.2 2312.9, 1599.8 2327.5, 1601.4 2330.9 " fill="none" stroke="#1f8a2a" stroke-width="2.4" stroke-linejoin="round"/>
<line x1="1348.4" y1="2374" x2="1348.4" y2="2483" stroke="#000" stroke-width="2.2"/>
<line x1="1347.3" y1="2482" x2="1616" y2="2482" stroke="#000" stroke-width="2.2"/>
<text x="1344.3" y="2392" font-size="27" text-anchor="end" fill="#000">1</text>
<text x="1345.3" y="2482" font-size="27" text-anchor="end" fill="#000">0</text>
<text x="1619.6" y="2483" font-size="27" text-anchor="start" fill="#000">17</text>
<path d="M 1348.4 2473.8 C 1350.8 2473.5, 1362.0 2472.8, 1366.1 2471.7 C 1370.1 2470.5, 1375.9 2468.4, 1378.7 2465.4 C 1381.5 2462.3, 1384.9 2455.8, 1387.1 2448.5 C 1389.3 2441.3, 1393.5 2416.3, 1395.5 2410.7 C 1397.5 2405.1, 1400.1 2409.6, 1401.8 2406.5 C 1403.5 2403.4, 1406.4 2391.8, 1408.1 2387.6 C 1409.8 2383.4, 1412.7 2373.6, 1414.4 2375.0 C 1416.1 2376.4, 1418.8 2391.7, 1420.7 2398.1 C 1422.7 2404.6, 1426.3 2417.7, 1429.1 2423.3 C 1431.9 2428.9, 1437.8 2437.1, 1441.7 2440.1 C 1445.7 2443.2, 1454.1 2445.3, 1458.5 2446.4 C 1463.0 2447.6, 1470.9 2448.0, 1475.4 2448.5 C 1479.8 2449.1, 1487.7 2450.6, 1492.2 2450.6 C 1496.6 2450.6, 1504.5 2449.1, 1509.0 2448.5 C 1513.5 2448.0, 1521.9 2447.6, 1525.8 2446.4 C 1529.7 2445.3, 1535.6 2443.8, 1538.4 2440.1 C 1541.2 2436.5, 1545.1 2424.2, 1546.8 2419.1 C 1548.5 2414.1, 1549.6 2401.8, 1551.0 2402.3 C 1552.4 2402.9, 1555.6 2417.7, 1557.3 2423.3 C 1559.0 2428.9, 1561.6 2438.7, 1563.6 2444.3 C 1565.6 2449.9, 1569.2 2462.0, 1572.0 2465.4 C 1574.8 2468.7, 1581.3 2468.4, 1584.6 2469.6 C 1588.0 2470.7, 1595.6 2473.2, 1597.2 2473.8 " fill="none" stroke="#7a1fa0" stroke-width="2.4" stroke-linejoin="round"/>
<path d="M 1348.4 2474.6 C 1350.8 2474.2, 1362.0 2472.6, 1366.1 2471.7 C 1370.1 2470.7, 1375.9 2469.7, 1378.7 2467.5 C 1381.5 2465.2, 1384.9 2460.2, 1387.1 2454.8 C 1389.3 2449.5, 1393.3 2433.4, 1395.5 2427.5 C 1397.7 2421.6, 1401.9 2416.0, 1403.9 2410.7 C 1405.9 2405.4, 1408.5 2389.3, 1410.2 2387.6 C 1411.9 2385.9, 1414.6 2393.3, 1416.5 2398.1 C 1418.5 2402.9, 1422.1 2418.3, 1424.9 2423.3 C 1427.7 2428.4, 1434.2 2432.6, 1437.5 2435.9 C 1440.9 2439.3, 1446.2 2446.9, 1450.1 2448.5 C 1454.1 2450.2, 1462.7 2447.4, 1466.9 2448.5 C 1471.2 2449.7, 1478.3 2456.9, 1481.7 2456.9 C 1485.0 2456.9, 1488.5 2449.7, 1492.2 2448.5 C 1495.8 2447.4, 1504.5 2448.8, 1509.0 2448.5 C 1513.5 2448.3, 1521.9 2448.1, 1525.8 2446.4 C 1529.7 2444.8, 1535.6 2439.6, 1538.4 2435.9 C 1541.2 2432.3, 1545.1 2423.9, 1546.8 2419.1 C 1548.5 2414.4, 1549.6 2400.2, 1551.0 2400.2 C 1552.4 2400.2, 1555.6 2412.7, 1557.3 2419.1 C 1559.0 2425.6, 1561.6 2442.4, 1563.6 2448.5 C 1565.6 2454.7, 1569.2 2462.6, 1572.0 2465.4 C 1574.8 2468.2, 1581.3 2468.5, 1584.6 2469.6 C 1588.0 2470.6, 1595.6 2472.5, 1597.2 2472.9 " fill="none" stroke="#1f8a2a" stroke-width="2.4" stroke-linejoin="round"/>
<line x1="1348.4" y1="2566" x2="1348.4" y2="2675.6" stroke="#000" stroke-width="2.2"/>
<line x1="1347.3" y1="2674.6" x2="1616" y2="2674.6" stroke="#000" stroke-width="2.2"/>
<text x="1344.3" y="2584" font-size="27" text-anchor="end" fill="#000">1</text>
<text x="1345.3" y="2674.6" font-size="27" text-anchor="end" fill="#000">0</text>
<text x="1619.6" y="2675.6" font-size="27" text-anchor="start" fill="#000">25</text>
<path d="M 1348.4 2669.2 C 1350.8 2668.9, 1361.5 2668.2, 1366.1 2667.1 C 1370.7 2666.0, 1379.5 2665.3, 1382.9 2660.8 C 1386.3 2656.3, 1389.3 2641.6, 1391.3 2633.5 C 1393.3 2625.3, 1396.2 2605.7, 1397.6 2599.8 C 1399.0 2594.0, 1400.4 2589.9, 1401.8 2589.3 C 1403.2 2588.8, 1406.7 2592.0, 1408.1 2595.6 C 1409.5 2599.3, 1411.2 2612.2, 1412.3 2616.7 C 1413.4 2621.1, 1415.4 2631.5, 1416.5 2629.3 C 1417.6 2627.0, 1419.3 2605.2, 1420.7 2599.8 C 1422.1 2594.5, 1425.3 2589.3, 1427.0 2589.3 C 1428.7 2589.3, 1431.4 2597.3, 1433.3 2599.8 C 1435.3 2602.4, 1440.1 2605.2, 1441.7 2608.2 C 1443.4 2611.3, 1444.8 2621.6, 1445.9 2623.0 C 1447.1 2624.4, 1448.5 2621.8, 1450.1 2618.8 C 1451.8 2615.7, 1456.3 2605.2, 1458.5 2599.8 C 1460.8 2594.5, 1465.0 2579.9, 1466.9 2578.8 C 1468.9 2577.7, 1471.6 2584.2, 1473.3 2591.4 C 1474.9 2598.7, 1478.2 2627.0, 1479.6 2633.5 C 1481.0 2639.9, 1482.4 2639.2, 1483.8 2639.8 C 1485.2 2640.3, 1488.7 2643.5, 1490.1 2637.7 C 1491.5 2631.8, 1493.1 2604.0, 1494.3 2595.6 C 1495.4 2587.2, 1497.1 2574.1, 1498.5 2574.6 C 1499.9 2575.2, 1502.8 2595.9, 1504.8 2599.8 C 1506.7 2603.8, 1510.9 2604.0, 1513.2 2604.0 C 1515.4 2604.0, 1519.3 2598.2, 1521.6 2599.8 C 1523.8 2601.5, 1527.7 2612.2, 1530.0 2616.7 C 1532.2 2621.1, 1536.2 2629.8, 1538.4 2633.5 C 1540.6 2637.1, 1544.0 2640.6, 1546.8 2644.0 C 1549.6 2647.3, 1555.5 2655.6, 1559.4 2658.7 C 1563.3 2661.8, 1571.2 2665.5, 1576.2 2667.1 C 1581.3 2668.7, 1594.4 2670.0, 1597.2 2670.4 " fill="none" stroke="#7a1fa0" stroke-width="2.4" stroke-linejoin="round"/>
<path d="M 1348.4 2667.1 C 1350.8 2666.8, 1361.5 2666.1, 1366.1 2665.0 C 1370.7 2663.9, 1379.5 2662.9, 1382.9 2658.7 C 1386.3 2654.5, 1389.3 2639.3, 1391.3 2633.5 C 1393.3 2627.6, 1395.9 2617.9, 1397.6 2614.6 C 1399.3 2611.2, 1402.5 2608.2, 1403.9 2608.2 C 1405.3 2608.2, 1407.0 2613.1, 1408.1 2614.6 C 1409.2 2616.0, 1411.2 2619.0, 1412.3 2618.8 C 1413.4 2618.5, 1414.8 2615.5, 1416.5 2612.4 C 1418.2 2609.4, 1422.7 2598.4, 1424.9 2595.6 C 1427.2 2592.8, 1431.1 2589.8, 1433.3 2591.4 C 1435.6 2593.1, 1440.1 2605.2, 1441.7 2608.2 C 1443.4 2611.3, 1444.3 2614.6, 1445.9 2614.6 C 1447.6 2614.6, 1452.4 2613.0, 1454.3 2608.2 C 1456.3 2603.5, 1459.0 2583.3, 1460.6 2578.8 C 1462.3 2574.3, 1465.3 2573.5, 1466.9 2574.6 C 1468.6 2575.7, 1471.6 2581.6, 1473.3 2587.2 C 1474.9 2592.8, 1477.6 2611.9, 1479.6 2616.7 C 1481.5 2621.4, 1486.3 2624.1, 1488.0 2623.0 C 1489.6 2621.8, 1491.0 2614.7, 1492.2 2608.2 C 1493.3 2601.8, 1495.0 2577.4, 1496.4 2574.6 C 1497.8 2571.8, 1500.4 2585.6, 1502.7 2587.2 C 1504.9 2588.9, 1510.7 2586.1, 1513.2 2587.2 C 1515.7 2588.4, 1519.3 2592.8, 1521.6 2595.6 C 1523.8 2598.4, 1527.7 2605.4, 1530.0 2608.2 C 1532.2 2611.0, 1536.2 2613.6, 1538.4 2616.7 C 1540.6 2619.7, 1544.0 2626.9, 1546.8 2631.4 C 1549.6 2635.8, 1555.5 2646.1, 1559.4 2650.3 C 1563.3 2654.5, 1571.2 2660.6, 1576.2 2662.9 C 1581.3 2665.1, 1594.4 2666.5, 1597.2 2667.1 " fill="none" stroke="#1f8a2a" stroke-width="2.4" stroke-linejoin="round"/>
<text x="1485.5" y="2713.5" font-size="26.5" text-anchor="middle" fill="#000">Distance (μM)</text>
<text x="1318.5" y="2291" font-size="27.5" text-anchor="middle" fill="#000" transform="rotate(-90 1318.5 2291)">Normalized pixel intensity</text>
<rect x="1677" y="1969" width="40" height="31.700000000000045" rx="6" fill="#b4b4b4"/>
<text x="1697.0" y="1992.85" font-size="23" text-anchor="middle" fill="#000">V5</text>
<rect x="1718" y="1969" width="107" height="31.700000000000045" rx="6" fill="#6cc24a"/>
<text x="1771.5" y="1992.85" font-size="23" text-anchor="middle" fill="#000">BRET-ID</text>
<rect x="1677" y="2100.7" width="40" height="31.100000000000364" rx="6" fill="#b4b4b4"/>
<text x="1697.0" y="2124.25" font-size="23" text-anchor="middle" fill="#000">V5</text>
<rect x="1718" y="2100.7" width="107" height="31.100000000000364" rx="6" fill="#6cc24a"/>
<text x="1771.5" y="2124.25" font-size="23" text-anchor="middle" fill="#000">BRET-ID</text>
<rect x="1826" y="2100.7" width="72" height="31.100000000000364" rx="6" fill="#b6def3"/>
<text x="1862.0" y="2124.25" font-size="23" text-anchor="middle" fill="#000">NLS*3</text>
<rect x="1676" y="2317" width="40" height="30.699999999999818" rx="6" fill="#b4b4b4"/>
<text x="1696.0" y="2340.35" font-size="23" text-anchor="middle" fill="#000">V5</text>
<rect x="1716.5" y="2317" width="107.5" height="30.699999999999818" rx="6" fill="#6cc24a"/>
<text x="1770.25" y="2340.35" font-size="23" text-anchor="middle" fill="#000">BRET-ID</text>
<rect x="1824.5" y="2317" width="66.5" height="30.699999999999818" rx="6" fill="#b6def3"/>
<text x="1857.75" y="2340.35" font-size="23" text-anchor="middle" fill="#000">MAVS</text>
<rect x="1675" y="2449" width="65" height="32" rx="6" fill="#b6def3"/>
<text x="1707.5" y="2473.0" font-size="23" text-anchor="middle" fill="#000">COX</text>
<rect x="1740.5" y="2449" width="39.5" height="32" rx="6" fill="#b4b4b4"/>
<text x="1760.25" y="2473.0" font-size="23" text-anchor="middle" fill="#000">V5</text>
<rect x="1780.5" y="2449" width="106.5" height="32" rx="6" fill="#6cc24a"/>
<text x="1833.75" y="2473.0" font-size="23" text-anchor="middle" fill="#000">BRET-ID</text>
<rect x="1675" y="2642.7" width="41" height="31.300000000000182" rx="6" fill="#b4b4b4"/>
<text x="1695.5" y="2666.35" font-size="23" text-anchor="middle" fill="#000">V5</text>
<rect x="1716.5" y="2642.7" width="107.5" height="31.300000000000182" rx="6" fill="#6cc24a"/>
<text x="1770.25" y="2666.35" font-size="23" text-anchor="middle" fill="#000">BRET-ID</text>
<rect x="1824.5" y="2642.7" width="95.5" height="31.300000000000182" rx="6" fill="#b6def3"/>
<text x="1872.25" y="2666.35" font-size="23" text-anchor="middle" fill="#000">Sec61β</text>
</svg>
</body></html>
